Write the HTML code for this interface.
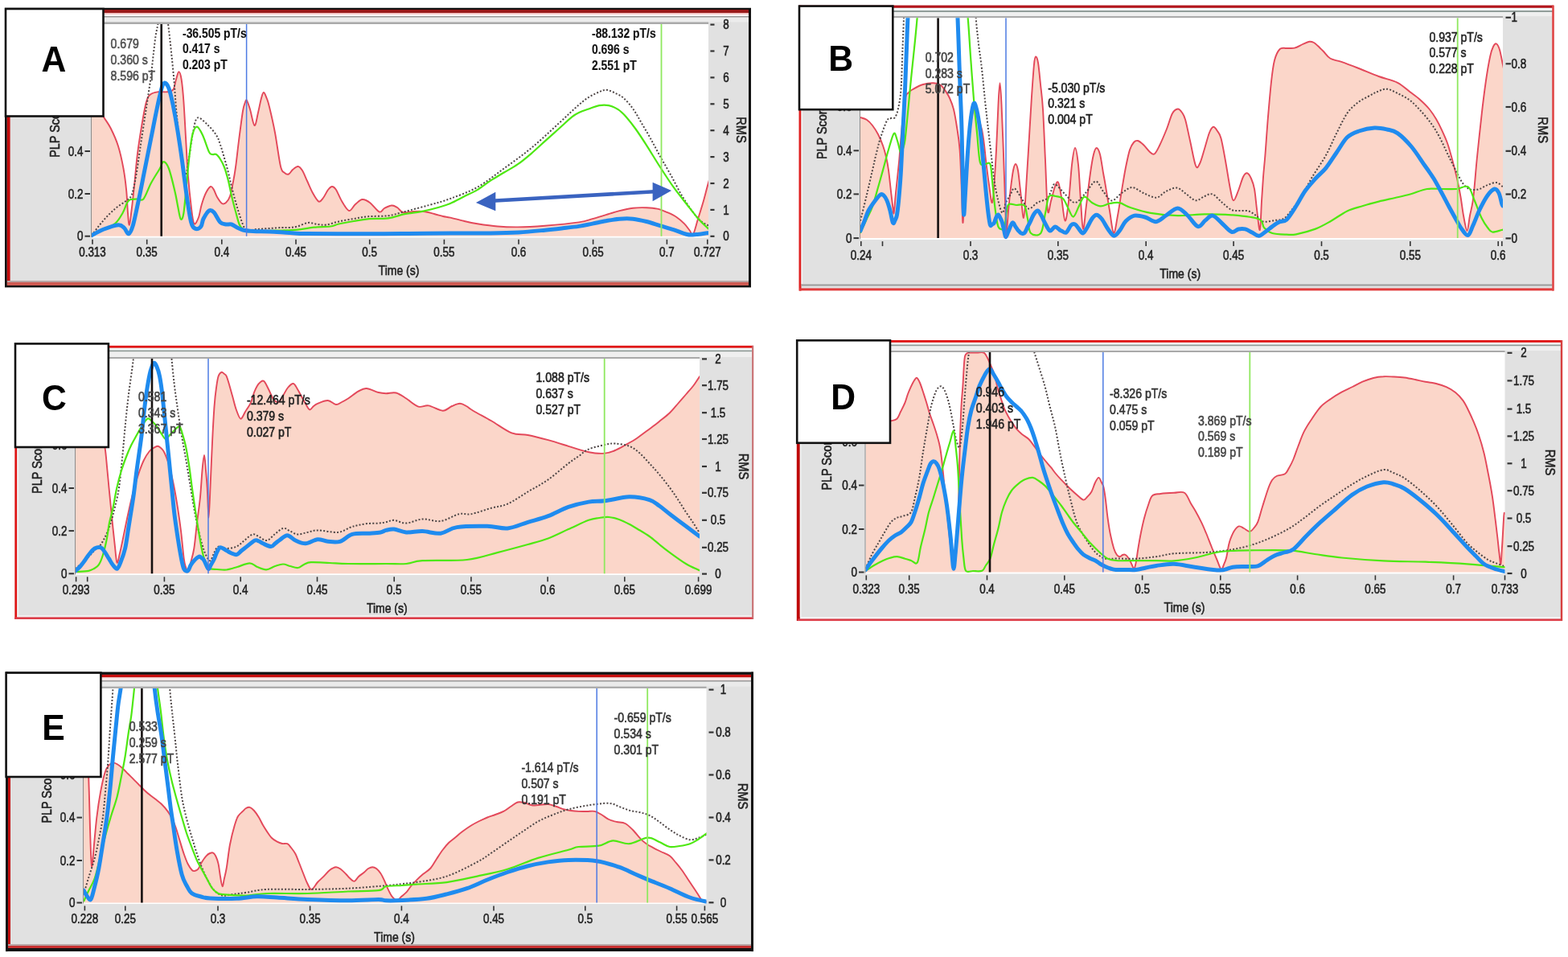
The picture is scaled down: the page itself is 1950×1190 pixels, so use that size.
<!DOCTYPE html>
<html><head><meta charset="utf-8"><title>PLP figure</title>
<style>
html,body{margin:0;padding:0;background:#fff;}
body{width:1950px;height:1190px;overflow:hidden;}
svg{display:block;}
.tk{font-family:"Liberation Sans", Arial, sans-serif;font-size:16px;fill:#222;stroke:#222;stroke-width:0.55px;}
.an{font-family:"Liberation Sans", Arial, sans-serif;font-size:16px;stroke-width:0.6px;}
.anb{font-family:"Liberation Sans", Arial, sans-serif;font-size:16px;font-weight:bold;stroke-width:0.1px;}
.lt{font-family:"Liberation Sans", Arial, sans-serif;font-size:44px;font-weight:bold;fill:#000;}
</style></head><body>
<svg width="1950" height="1190" viewBox="0 0 1950 1190">
<rect width="1950" height="1190" fill="#fff"/>
<clipPath id="clipA"><rect x="114.0" y="30.0" width="767.0" height="265.5"/></clipPath>
<rect x="6.0" y="10.0" width="928.0" height="347.0" fill="#e1e1e1"/>
<rect x="129.0" y="16.0" width="802.0" height="2.0" fill="#f3c4c4"/>
<rect x="129.0" y="18.0" width="802.0" height="2.0" fill="#ffffff"/>
<rect x="129.0" y="20.0" width="802.0" height="1.7" fill="#9a9a9a"/>
<rect x="129.0" y="21.7" width="802.0" height="5.8" fill="#ececec"/>
<rect x="129.0" y="27.5" width="752.0" height="2.5" fill="#aaaaaa"/>
<rect x="114.0" y="30.0" width="767.0" height="265.5" fill="#ffffff"/>
<g clip-path="url(#clipA)">
<path d="M114.0,118.0 C115.2,120.0 118.6,125.5 121.0,130.0 C123.4,134.4 125.7,139.8 128.5,144.7 C131.3,149.6 134.6,153.3 137.7,159.5 C140.8,165.7 144.4,173.4 147.0,181.7 C149.6,190.0 151.8,200.2 153.5,209.5 C155.2,218.8 156.3,227.9 157.2,237.2 C158.1,246.4 158.4,257.9 159.0,265.0 C159.6,272.1 160.1,280.3 160.9,279.7 C161.7,279.1 162.5,269.8 163.6,261.2 C164.7,252.6 166.1,239.7 167.3,228.0 C168.5,216.3 169.4,203.3 171.0,191.0 C172.6,178.7 174.8,164.8 176.6,154.0 C178.4,143.2 180.2,132.4 182.1,126.2 C183.9,120.0 185.2,119.0 187.7,117.0 C190.2,115.0 193.5,114.7 196.9,114.2 C200.3,113.7 204.9,114.7 208.0,114.2 C211.1,113.7 213.6,114.0 215.4,111.4 C217.2,108.8 217.9,102.2 219.1,98.5 C220.3,94.8 221.3,89.2 222.4,89.2 C223.5,89.2 224.6,92.3 225.6,98.5 C226.6,104.7 227.5,113.9 228.4,126.2 C229.3,138.5 230.2,157.1 231.1,172.5 C232.0,187.9 232.8,204.8 233.9,218.7 C235.0,232.6 236.4,245.8 237.6,255.7 C238.8,265.6 239.8,275.4 241.3,277.9 C242.9,280.4 245.4,274.3 246.9,270.5 C248.4,266.7 249.1,260.1 250.6,255.0 C252.1,249.9 254.1,243.8 256.0,240.0 C257.9,236.2 260.3,232.7 262.0,232.0 C263.7,231.3 264.7,233.8 266.0,236.0 C267.3,238.2 268.3,242.2 270.0,245.0 C271.7,247.8 274.2,251.8 276.0,253.0 C277.8,254.2 279.3,253.5 281.0,252.0 C282.7,250.5 284.5,248.3 286.0,244.0 C287.5,239.7 288.8,232.0 290.0,226.0 C291.2,220.0 291.8,216.5 293.0,208.0 C294.2,199.5 295.5,186.7 297.0,175.0 C298.5,163.3 300.7,146.0 302.0,138.0 C303.3,130.0 304.2,129.2 305.0,127.0 C305.8,124.8 306.0,123.5 307.0,125.0 C308.0,126.5 309.4,130.8 311.0,136.0 C312.6,141.2 314.8,155.3 316.5,156.0 C318.2,156.7 319.6,145.7 321.0,140.0 C322.4,134.3 323.8,126.2 325.0,122.0 C326.2,117.8 326.8,114.8 328.0,115.0 C329.2,115.2 330.8,120.0 332.0,123.0 C333.2,126.0 333.3,126.0 335.0,133.0 C336.7,140.0 339.7,152.7 342.0,165.0 C344.3,177.3 347.0,198.7 349.0,207.0 C351.0,215.3 352.3,213.4 354.0,215.0 C355.7,216.6 357.3,217.2 359.0,216.5 C360.7,215.8 362.1,212.6 364.0,211.0 C365.9,209.4 368.6,206.8 370.6,207.0 C372.6,207.2 374.1,209.0 376.0,212.0 C377.9,215.0 379.8,220.3 382.0,225.0 C384.2,229.7 386.6,235.7 389.0,240.0 C391.4,244.3 394.3,249.6 396.5,250.6 C398.7,251.6 400.1,248.4 402.0,246.0 C403.9,243.6 406.2,238.3 408.0,236.0 C409.8,233.7 411.3,232.0 413.0,232.0 C414.7,232.0 416.0,233.0 418.0,236.0 C420.0,239.0 422.3,245.7 425.0,250.0 C427.7,254.3 431.2,261.3 434.0,262.0 C436.8,262.7 439.2,256.3 442.0,254.0 C444.8,251.7 447.6,248.3 450.6,248.0 C453.6,247.7 456.5,249.4 460.0,252.0 C463.5,254.6 468.8,262.3 471.8,263.5 C474.8,264.7 475.5,260.3 478.0,259.0 C480.5,257.7 484.3,255.7 487.0,255.5 C489.7,255.3 491.7,256.6 494.0,258.0 C496.3,259.4 497.7,263.2 501.0,264.0 C504.3,264.8 509.7,263.2 514.0,263.0 C518.3,262.8 522.7,262.5 527.0,263.0 C531.3,263.5 536.0,265.0 540.0,266.0 C544.0,267.0 547.7,268.2 551.0,269.0 C554.3,269.8 555.7,269.6 560.0,270.6 C564.3,271.6 571.2,273.5 576.8,274.8 C582.4,276.1 586.6,277.1 593.6,278.2 C600.6,279.3 610.4,280.8 618.8,281.5 C627.2,282.2 634.2,282.5 644.0,282.4 C653.8,282.3 664.9,281.7 677.6,280.7 C690.3,279.7 710.1,277.8 720.0,276.4 C729.9,275.0 731.2,273.8 736.8,272.2 C742.4,270.6 748.0,268.8 753.6,267.1 C759.2,265.4 764.8,263.5 770.4,262.1 C776.0,260.7 781.6,259.4 787.2,258.7 C792.8,258.0 799.0,258.0 804.0,258.2 C809.0,258.4 813.2,258.7 817.4,259.6 C821.6,260.5 825.3,262.1 829.2,263.8 C833.1,265.5 837.4,267.3 841.0,269.7 C844.6,272.1 848.2,275.3 851.0,278.1 C853.8,280.9 855.9,284.3 857.7,286.5 C859.5,288.7 860.2,293.8 861.9,291.5 C863.6,289.2 865.7,279.7 867.8,273.0 C869.9,266.3 872.4,258.5 874.5,251.2 C876.6,243.9 878.6,235.5 880.4,229.3 C882.1,223.1 884.2,216.6 885.0,214.0 L885.0,293.8 L114.0,293.8 Z" fill="#fbd6c9" stroke="none"/>
<path d="M114.0,118.0 C115.2,120.0 118.6,125.5 121.0,130.0 C123.4,134.4 125.7,139.8 128.5,144.7 C131.3,149.6 134.6,153.3 137.7,159.5 C140.8,165.7 144.4,173.4 147.0,181.7 C149.6,190.0 151.8,200.2 153.5,209.5 C155.2,218.8 156.3,227.9 157.2,237.2 C158.1,246.4 158.4,257.9 159.0,265.0 C159.6,272.1 160.1,280.3 160.9,279.7 C161.7,279.1 162.5,269.8 163.6,261.2 C164.7,252.6 166.1,239.7 167.3,228.0 C168.5,216.3 169.4,203.3 171.0,191.0 C172.6,178.7 174.8,164.8 176.6,154.0 C178.4,143.2 180.2,132.4 182.1,126.2 C183.9,120.0 185.2,119.0 187.7,117.0 C190.2,115.0 193.5,114.7 196.9,114.2 C200.3,113.7 204.9,114.7 208.0,114.2 C211.1,113.7 213.6,114.0 215.4,111.4 C217.2,108.8 217.9,102.2 219.1,98.5 C220.3,94.8 221.3,89.2 222.4,89.2 C223.5,89.2 224.6,92.3 225.6,98.5 C226.6,104.7 227.5,113.9 228.4,126.2 C229.3,138.5 230.2,157.1 231.1,172.5 C232.0,187.9 232.8,204.8 233.9,218.7 C235.0,232.6 236.4,245.8 237.6,255.7 C238.8,265.6 239.8,275.4 241.3,277.9 C242.9,280.4 245.4,274.3 246.9,270.5 C248.4,266.7 249.1,260.1 250.6,255.0 C252.1,249.9 254.1,243.8 256.0,240.0 C257.9,236.2 260.3,232.7 262.0,232.0 C263.7,231.3 264.7,233.8 266.0,236.0 C267.3,238.2 268.3,242.2 270.0,245.0 C271.7,247.8 274.2,251.8 276.0,253.0 C277.8,254.2 279.3,253.5 281.0,252.0 C282.7,250.5 284.5,248.3 286.0,244.0 C287.5,239.7 288.8,232.0 290.0,226.0 C291.2,220.0 291.8,216.5 293.0,208.0 C294.2,199.5 295.5,186.7 297.0,175.0 C298.5,163.3 300.7,146.0 302.0,138.0 C303.3,130.0 304.2,129.2 305.0,127.0 C305.8,124.8 306.0,123.5 307.0,125.0 C308.0,126.5 309.4,130.8 311.0,136.0 C312.6,141.2 314.8,155.3 316.5,156.0 C318.2,156.7 319.6,145.7 321.0,140.0 C322.4,134.3 323.8,126.2 325.0,122.0 C326.2,117.8 326.8,114.8 328.0,115.0 C329.2,115.2 330.8,120.0 332.0,123.0 C333.2,126.0 333.3,126.0 335.0,133.0 C336.7,140.0 339.7,152.7 342.0,165.0 C344.3,177.3 347.0,198.7 349.0,207.0 C351.0,215.3 352.3,213.4 354.0,215.0 C355.7,216.6 357.3,217.2 359.0,216.5 C360.7,215.8 362.1,212.6 364.0,211.0 C365.9,209.4 368.6,206.8 370.6,207.0 C372.6,207.2 374.1,209.0 376.0,212.0 C377.9,215.0 379.8,220.3 382.0,225.0 C384.2,229.7 386.6,235.7 389.0,240.0 C391.4,244.3 394.3,249.6 396.5,250.6 C398.7,251.6 400.1,248.4 402.0,246.0 C403.9,243.6 406.2,238.3 408.0,236.0 C409.8,233.7 411.3,232.0 413.0,232.0 C414.7,232.0 416.0,233.0 418.0,236.0 C420.0,239.0 422.3,245.7 425.0,250.0 C427.7,254.3 431.2,261.3 434.0,262.0 C436.8,262.7 439.2,256.3 442.0,254.0 C444.8,251.7 447.6,248.3 450.6,248.0 C453.6,247.7 456.5,249.4 460.0,252.0 C463.5,254.6 468.8,262.3 471.8,263.5 C474.8,264.7 475.5,260.3 478.0,259.0 C480.5,257.7 484.3,255.7 487.0,255.5 C489.7,255.3 491.7,256.6 494.0,258.0 C496.3,259.4 497.7,263.2 501.0,264.0 C504.3,264.8 509.7,263.2 514.0,263.0 C518.3,262.8 522.7,262.5 527.0,263.0 C531.3,263.5 536.0,265.0 540.0,266.0 C544.0,267.0 547.7,268.2 551.0,269.0 C554.3,269.8 555.7,269.6 560.0,270.6 C564.3,271.6 571.2,273.5 576.8,274.8 C582.4,276.1 586.6,277.1 593.6,278.2 C600.6,279.3 610.4,280.8 618.8,281.5 C627.2,282.2 634.2,282.5 644.0,282.4 C653.8,282.3 664.9,281.7 677.6,280.7 C690.3,279.7 710.1,277.8 720.0,276.4 C729.9,275.0 731.2,273.8 736.8,272.2 C742.4,270.6 748.0,268.8 753.6,267.1 C759.2,265.4 764.8,263.5 770.4,262.1 C776.0,260.7 781.6,259.4 787.2,258.7 C792.8,258.0 799.0,258.0 804.0,258.2 C809.0,258.4 813.2,258.7 817.4,259.6 C821.6,260.5 825.3,262.1 829.2,263.8 C833.1,265.5 837.4,267.3 841.0,269.7 C844.6,272.1 848.2,275.3 851.0,278.1 C853.8,280.9 855.9,284.3 857.7,286.5 C859.5,288.7 860.2,293.8 861.9,291.5 C863.6,289.2 865.7,279.7 867.8,273.0 C869.9,266.3 872.4,258.5 874.5,251.2 C876.6,243.9 878.6,235.5 880.4,229.3 C882.1,223.1 884.2,216.6 885.0,214.0" fill="none" stroke="#e3485a" stroke-width="1.9"/>
<path d="M114.0,292.7 C116.4,289.6 123.6,279.8 128.5,274.2 C133.4,268.6 138.7,263.4 143.3,259.4 C147.9,255.4 152.8,253.0 156.2,250.2 C159.6,247.4 161.4,247.9 163.6,242.7 C165.8,237.4 167.3,228.9 169.2,218.7 C171.0,208.5 172.8,194.0 174.7,181.7 C176.5,169.4 178.8,154.9 180.3,144.7 C181.9,134.5 182.8,129.0 184.0,120.7 C185.2,112.4 186.6,103.5 187.7,95.0 C188.8,86.5 189.5,78.3 190.5,70.0 C191.5,61.7 192.5,51.8 193.5,45.0 C194.5,38.2 195.6,35.2 196.5,29.4 C197.4,23.6 197.4,13.2 199.0,10.0 C200.6,6.8 204.3,6.8 206.0,10.0 C207.7,13.2 207.9,21.1 209.0,29.4 C210.1,37.7 211.3,48.5 212.5,60.0 C213.7,71.5 215.2,85.9 216.3,98.5 C217.4,111.1 218.0,123.2 219.1,135.5 C220.2,147.8 221.6,161.7 222.8,172.5 C224.0,183.3 225.1,192.8 226.5,200.2 C227.9,207.6 229.5,218.4 231.1,216.9 C232.7,215.4 234.3,199.7 235.8,191.0 C237.3,182.3 238.4,172.4 240.0,165.0 C241.6,157.6 242.5,148.3 245.5,146.6 C248.5,144.9 254.1,151.4 258.0,155.0 C261.9,158.6 266.3,163.8 269.0,168.0 C271.7,172.2 272.3,175.2 274.0,180.0 C275.7,184.8 277.3,190.7 279.0,196.5 C280.7,202.3 282.5,209.1 284.0,215.0 C285.5,220.9 286.2,224.8 288.0,232.0 C289.8,239.2 292.7,250.2 295.0,258.0 C297.3,265.8 300.0,274.3 302.0,279.0 C304.0,283.7 304.0,285.0 307.0,286.0 C310.0,287.0 315.3,285.3 320.0,285.0 C324.7,284.7 330.0,284.3 335.0,284.0 C340.0,283.7 345.8,283.2 350.0,283.0 C354.2,282.8 356.7,283.2 360.0,283.0 C363.3,282.8 366.1,282.5 370.0,281.5 C373.9,280.5 379.1,277.3 383.3,276.9 C387.5,276.5 391.2,278.6 395.0,279.0 C398.8,279.4 401.5,280.1 405.9,279.5 C410.3,278.9 415.6,276.6 421.3,275.4 C427.0,274.1 434.0,273.0 440.0,272.0 C446.0,271.0 450.1,269.8 457.2,269.2 C464.3,268.6 475.1,269.2 482.8,268.2 C490.5,267.2 494.8,265.3 503.3,263.1 C511.9,260.9 524.6,257.6 534.1,254.9 C543.6,252.2 550.1,250.7 560.0,247.0 C569.9,243.3 582.4,239.1 593.6,232.8 C604.8,226.5 616.0,217.3 627.2,209.2 C638.4,201.1 649.6,193.2 660.8,184.0 C672.0,174.8 684.6,162.8 694.5,153.8 C704.4,144.8 713.5,135.8 720.0,130.2 C726.5,124.6 729.2,122.8 733.4,120.2 C737.6,117.6 741.8,115.7 745.2,114.3 C748.6,112.9 750.5,111.7 753.6,111.8 C756.7,111.9 760.1,113.4 763.7,115.1 C767.3,116.8 771.5,118.4 775.4,121.8 C779.3,125.2 783.6,130.2 787.2,135.3 C790.9,140.4 793.7,145.9 797.3,152.1 C800.9,158.2 805.1,165.2 809.0,172.2 C812.9,179.2 816.6,186.5 820.8,194.1 C825.0,201.7 829.7,209.5 834.2,217.6 C838.7,225.7 843.2,235.2 847.7,242.8 C852.2,250.4 857.2,257.6 861.1,262.9 C865.0,268.2 868.1,271.9 871.2,274.7 C874.3,277.5 877.3,278.5 879.6,279.7 C881.9,280.9 884.1,281.6 885.0,282.0" fill="none" stroke="#4e4646" stroke-width="2" stroke-dasharray="2 2.2"/>
<path d="M114.0,292.7 C116.4,291.5 123.6,287.8 128.5,285.3 C133.4,282.8 139.3,281.3 143.3,277.9 C147.3,274.5 150.0,269.3 152.5,265.0 C155.0,260.7 156.5,254.8 158.1,252.0 C159.7,249.2 159.8,249.1 161.8,248.3 C163.8,247.6 167.2,247.7 170.0,247.5 C172.8,247.3 175.5,250.7 178.4,247.4 C181.3,244.2 184.3,234.3 187.7,228.0 C191.1,221.7 196.2,214.0 198.8,209.5 C201.4,205.0 201.6,201.1 203.4,201.1 C205.2,201.1 207.6,203.5 209.9,209.5 C212.2,215.5 215.5,229.5 217.3,237.2 C219.2,244.9 219.8,249.8 221.0,255.7 C222.2,261.6 223.5,270.8 224.7,272.3 C225.9,273.9 227.2,272.4 228.4,265.0 C229.6,257.6 230.9,240.3 232.1,228.0 C233.3,215.7 234.6,201.2 235.8,191.0 C237.0,180.8 238.0,172.5 239.5,166.9 C241.0,161.3 242.9,157.5 245.0,157.7 C247.1,157.9 249.5,162.8 252.0,168.0 C254.5,173.2 258.0,185.0 260.0,189.0 C262.0,193.0 262.5,191.5 264.0,192.0 C265.5,192.5 267.3,191.0 269.0,192.0 C270.7,193.0 272.3,195.3 274.0,198.0 C275.7,200.7 277.3,203.5 279.0,208.0 C280.7,212.5 282.5,219.1 284.0,225.0 C285.5,230.9 286.5,237.2 288.0,243.5 C289.5,249.8 291.4,257.1 293.0,263.0 C294.6,268.9 296.1,275.3 297.6,279.0 C299.1,282.7 300.4,283.5 302.0,285.0 C303.6,286.5 302.3,287.7 307.0,288.0 C311.7,288.3 322.8,287.2 330.0,287.0 C337.2,286.8 343.3,286.7 350.0,286.5 C356.7,286.3 363.2,286.2 370.0,285.6 C376.8,285.0 383.7,283.3 390.5,282.6 C397.3,281.9 405.9,282.2 411.0,281.5 C416.1,280.8 416.5,279.6 421.3,278.5 C426.1,277.4 434.0,276.0 440.0,275.0 C446.0,274.0 450.1,272.9 457.2,272.3 C464.3,271.7 475.1,272.3 482.8,271.3 C490.5,270.3 496.5,267.6 503.3,266.2 C510.1,264.8 516.8,264.5 523.8,263.1 C530.8,261.7 539.0,259.7 545.0,258.0 C551.0,256.3 554.7,255.2 560.0,252.9 C565.3,250.7 571.2,247.3 576.8,244.5 C582.4,241.7 588.0,239.4 593.6,236.1 C599.2,232.8 604.8,228.0 610.4,224.4 C616.0,220.8 621.6,217.7 627.2,214.3 C632.8,210.9 638.4,208.1 644.0,204.2 C649.6,200.3 655.2,195.6 660.8,190.8 C666.4,186.0 672.0,180.7 677.6,175.6 C683.2,170.5 688.9,165.5 694.5,160.5 C700.1,155.5 707.0,148.8 711.3,145.4 C715.5,142.0 716.3,141.7 720.0,140.0 C723.7,138.3 729.2,136.5 733.4,135.0 C737.6,133.5 741.3,131.8 745.2,131.1 C749.1,130.4 753.1,130.3 757.0,131.1 C760.9,131.9 765.1,133.7 768.7,136.1 C772.3,138.5 775.1,141.3 778.8,145.4 C782.4,149.5 786.4,154.6 790.6,160.5 C794.8,166.4 799.0,172.8 804.0,180.6 C809.0,188.4 815.2,198.8 820.8,207.5 C826.4,216.2 832.0,224.9 837.6,232.7 C843.2,240.5 849.4,248.1 854.4,254.5 C859.4,260.9 863.6,266.5 867.8,271.3 C872.0,276.1 876.7,280.5 879.6,283.1 C882.5,285.7 884.1,286.4 885.0,287.0" fill="none" stroke="#4ee812" stroke-width="2.2"/>
<path d="M114.0,292.7 C116.4,291.5 123.0,287.5 128.5,285.3 C134.0,283.1 142.7,280.0 147.0,279.7 C151.3,279.4 152.2,281.5 154.4,283.4 C156.6,285.2 158.2,291.4 160.0,290.8 C161.8,290.2 163.3,287.1 165.5,279.7 C167.7,272.3 170.4,258.1 172.9,246.4 C175.4,234.7 177.8,221.8 180.3,209.5 C182.8,197.2 185.2,184.8 187.7,172.5 C190.2,160.2 192.9,145.7 195.1,135.5 C197.2,125.3 199.1,116.8 200.6,111.4 C202.1,106.0 202.8,103.4 204.3,103.1 C205.9,102.8 208.1,104.8 209.9,109.6 C211.8,114.4 213.6,122.9 215.4,131.8 C217.2,140.7 219.2,151.8 221.0,163.2 C222.8,174.6 224.7,186.9 226.5,200.2 C228.3,213.4 230.2,230.1 232.1,242.7 C233.9,255.3 235.8,269.1 237.6,276.0 C239.4,282.9 241.1,283.5 243.2,284.4 C245.3,285.3 248.4,283.7 250.0,281.6 C251.6,279.5 251.3,275.3 253.0,272.0 C254.7,268.7 257.8,263.3 260.0,262.0 C262.2,260.7 263.7,261.6 266.0,264.0 C268.3,266.4 271.5,274.0 274.0,276.5 C276.5,279.0 278.7,278.6 281.0,279.0 C283.3,279.4 285.7,278.3 288.0,279.0 C290.3,279.7 292.7,281.8 295.0,283.0 C297.3,284.2 298.7,285.2 302.0,286.0 C305.3,286.8 309.5,287.2 315.0,287.5 C320.5,287.8 327.5,287.7 335.0,288.0 C342.5,288.3 352.2,289.1 360.0,289.5 C367.8,289.9 367.0,290.4 382.0,290.6 C397.0,290.8 430.3,290.8 450.0,290.8 C469.7,290.8 481.7,290.7 500.0,290.6 C518.3,290.5 541.7,290.1 560.0,290.0 C578.3,289.9 595.8,290.2 610.0,290.0 C624.2,289.8 633.7,289.6 645.0,289.0 C656.3,288.4 668.4,287.1 677.6,286.2 C686.8,285.3 692.9,284.6 700.0,283.8 C707.1,283.0 713.9,282.3 720.0,281.4 C726.1,280.4 731.2,279.2 736.8,278.1 C742.4,277.0 748.0,275.7 753.6,274.7 C759.2,273.7 764.8,272.6 770.4,272.2 C776.0,271.8 781.6,271.6 787.2,272.2 C792.8,272.8 798.4,274.1 804.0,275.5 C809.6,276.9 815.2,278.9 820.8,280.6 C826.4,282.3 832.0,283.8 837.6,285.6 C843.2,287.4 849.6,290.5 854.4,291.5 C859.1,292.5 861.9,291.8 866.1,291.5 C870.3,291.2 876.5,290.1 879.6,289.8 C882.8,289.5 884.1,289.6 885.0,289.5" fill="none" stroke="#1f8bef" stroke-width="5" stroke-linejoin="round" stroke-linecap="round"/>
<line x1="200.7" y1="30.0" x2="200.7" y2="293.8" stroke="#151010" stroke-width="2.6"/>
<line x1="306.6" y1="30.0" x2="306.6" y2="293.8" stroke="#4d7be3" stroke-width="1.5"/>
<line x1="822.5" y1="30.0" x2="822.5" y2="293.8" stroke="#8fe85f" stroke-width="1.8"/>
</g>
<line x1="113.5" y1="30.0" x2="113.5" y2="294.8" stroke="#8c8c8c" stroke-width="1"/>
<line x1="105.5" y1="293.7" x2="112.0" y2="293.7" stroke="#333" stroke-width="2"/>
<text transform="translate(103.5,299.3) scale(0.840,1)" text-anchor="end" class="tk">0</text>
<line x1="105.5" y1="241.0" x2="112.0" y2="241.0" stroke="#333" stroke-width="2"/>
<text transform="translate(103.5,246.6) scale(0.840,1)" text-anchor="end" class="tk">0.2</text>
<line x1="105.5" y1="188.0" x2="112.0" y2="188.0" stroke="#333" stroke-width="2"/>
<text transform="translate(103.5,193.6) scale(0.840,1)" text-anchor="end" class="tk">0.4</text>
<line x1="105.5" y1="135.0" x2="112.0" y2="135.0" stroke="#333" stroke-width="2"/>
<text transform="translate(103.5,140.6) scale(0.840,1)" text-anchor="end" class="tk">0.6</text>
<line x1="883.4" y1="30.6" x2="888.5" y2="30.6" stroke="#333" stroke-width="2.2"/>
<text transform="translate(903.0,36.2) scale(0.840,1)" text-anchor="middle" class="tk">8</text>
<line x1="883.4" y1="63.5" x2="888.5" y2="63.5" stroke="#333" stroke-width="2.2"/>
<text transform="translate(903.0,69.1) scale(0.840,1)" text-anchor="middle" class="tk">7</text>
<line x1="883.4" y1="96.4" x2="888.5" y2="96.4" stroke="#333" stroke-width="2.2"/>
<text transform="translate(903.0,102.0) scale(0.840,1)" text-anchor="middle" class="tk">6</text>
<line x1="883.4" y1="129.3" x2="888.5" y2="129.3" stroke="#333" stroke-width="2.2"/>
<text transform="translate(903.0,134.9) scale(0.840,1)" text-anchor="middle" class="tk">5</text>
<line x1="883.4" y1="162.2" x2="888.5" y2="162.2" stroke="#333" stroke-width="2.2"/>
<text transform="translate(903.0,167.8) scale(0.840,1)" text-anchor="middle" class="tk">4</text>
<line x1="883.4" y1="195.1" x2="888.5" y2="195.1" stroke="#333" stroke-width="2.2"/>
<text transform="translate(903.0,200.7) scale(0.840,1)" text-anchor="middle" class="tk">3</text>
<line x1="883.4" y1="228.0" x2="888.5" y2="228.0" stroke="#333" stroke-width="2.2"/>
<text transform="translate(903.0,233.6) scale(0.840,1)" text-anchor="middle" class="tk">2</text>
<line x1="883.4" y1="260.9" x2="888.5" y2="260.9" stroke="#333" stroke-width="2.2"/>
<text transform="translate(903.0,266.5) scale(0.840,1)" text-anchor="middle" class="tk">1</text>
<line x1="883.4" y1="293.8" x2="888.5" y2="293.8" stroke="#333" stroke-width="2.2"/>
<text transform="translate(903.0,299.4) scale(0.840,1)" text-anchor="middle" class="tk">0</text>
<line x1="115.0" y1="297.8" x2="115.0" y2="303.8" stroke="#333" stroke-width="1.6"/>
<text transform="translate(115.0,319.2) scale(0.840,1)" text-anchor="middle" class="tk">0.313</text>
<line x1="182.7" y1="297.8" x2="182.7" y2="303.8" stroke="#333" stroke-width="1.6"/>
<text transform="translate(182.7,319.2) scale(0.840,1)" text-anchor="middle" class="tk">0.35</text>
<line x1="275.8" y1="297.8" x2="275.8" y2="303.8" stroke="#333" stroke-width="1.6"/>
<text transform="translate(275.8,319.2) scale(0.840,1)" text-anchor="middle" class="tk">0.4</text>
<line x1="368.0" y1="297.8" x2="368.0" y2="303.8" stroke="#333" stroke-width="1.6"/>
<text transform="translate(368.0,319.2) scale(0.840,1)" text-anchor="middle" class="tk">0.45</text>
<line x1="459.7" y1="297.8" x2="459.7" y2="303.8" stroke="#333" stroke-width="1.6"/>
<text transform="translate(459.7,319.2) scale(0.840,1)" text-anchor="middle" class="tk">0.5</text>
<line x1="552.4" y1="297.8" x2="552.4" y2="303.8" stroke="#333" stroke-width="1.6"/>
<text transform="translate(552.4,319.2) scale(0.840,1)" text-anchor="middle" class="tk">0.55</text>
<line x1="645.0" y1="297.8" x2="645.0" y2="303.8" stroke="#333" stroke-width="1.6"/>
<text transform="translate(645.0,319.2) scale(0.840,1)" text-anchor="middle" class="tk">0.6</text>
<line x1="737.6" y1="297.8" x2="737.6" y2="303.8" stroke="#333" stroke-width="1.6"/>
<text transform="translate(737.6,319.2) scale(0.840,1)" text-anchor="middle" class="tk">0.65</text>
<line x1="829.4" y1="297.8" x2="829.4" y2="303.8" stroke="#333" stroke-width="1.6"/>
<text transform="translate(829.4,319.2) scale(0.840,1)" text-anchor="middle" class="tk">0.7</text>
<line x1="879.8" y1="297.8" x2="879.8" y2="303.8" stroke="#333" stroke-width="1.6"/>
<text transform="translate(879.8,319.2) scale(0.840,1)" text-anchor="middle" class="tk">0.727</text>
<text transform="translate(496.0,341.6) scale(0.875,1)" text-anchor="middle" class="tk">Time (s)</text>
<text transform="translate(922.0,161.5) rotate(90) scale(0.92,1)" text-anchor="middle" class="tk" y="5.6">RMS</text>
<text transform="translate(68.4,195.8) rotate(-90) scale(0.9,1)" class="tk" y="5.6">PLP Score</text>
<text transform="translate(137.6,60.2) scale(0.880,1)" text-anchor="start" class="an" fill="#505050" stroke="#505050">0.679</text>
<text transform="translate(137.6,80.0) scale(0.880,1)" text-anchor="start" class="an" fill="#505050" stroke="#505050">0.360 s</text>
<text transform="translate(137.6,99.8) scale(0.880,1)" text-anchor="start" class="an" fill="#505050" stroke="#505050">8.596 pT</text>
<text transform="translate(227.0,46.5) scale(0.870,1)" text-anchor="start" class="anb" fill="#111" stroke="#111">-36.505 pT/s</text>
<text transform="translate(227.0,66.3) scale(0.870,1)" text-anchor="start" class="anb" fill="#111" stroke="#111">0.417 s</text>
<text transform="translate(227.0,86.1) scale(0.870,1)" text-anchor="start" class="anb" fill="#111" stroke="#111">0.203 pT</text>
<text transform="translate(736.0,47.3) scale(0.870,1)" text-anchor="start" class="anb" fill="#111" stroke="#111">-88.132 pT/s</text>
<text transform="translate(736.0,67.1) scale(0.870,1)" text-anchor="start" class="anb" fill="#111" stroke="#111">0.696 s</text>
<text transform="translate(736.0,86.9) scale(0.870,1)" text-anchor="start" class="anb" fill="#111" stroke="#111">2.551 pT</text>
<line x1="612" y1="249.8" x2="814" y2="238.3" stroke="#3a63c0" stroke-width="4.6"/>
<polygon points="591.9,252.1 616.3,238.7 616.3,262.2" fill="#3a63c0"/>
<polygon points="835.1,236.9 811.6,226.8 811.6,250.3" fill="#3a63c0"/>
<rect x="6.0" y="9.8" width="928.0" height="2.2" fill="#111"/>
<rect x="8.5" y="12.0" width="923.0" height="4.0" fill="#9a1a1a"/>
<rect x="6.0" y="10.0" width="2.8" height="347.0" fill="#111"/>
<rect x="8.8" y="12.0" width="3.8" height="342.0" fill="#c40c0c"/>
<rect x="9.0" y="349.0" width="922.0" height="2.0" fill="#b8a4a4"/>
<rect x="9.0" y="351.0" width="922.0" height="4.0" fill="#cf5a52"/>
<rect x="6.0" y="355.0" width="928.0" height="2.4" fill="#111"/>
<rect x="931.0" y="10.0" width="3.0" height="347.0" fill="#111"/>
<rect x="7.0" y="11.0" width="121.5" height="133.5" fill="#fff" stroke="#111" stroke-width="2.6"/>
<text transform="translate(67.0,88.8) scale(0.97,1)" text-anchor="middle" class="lt">A</text>
<clipPath id="clipB"><rect x="1070.0" y="22.3" width="799.0" height="275.7"/></clipPath>
<rect x="994.0" y="7.0" width="938.0" height="354.0" fill="#e1e1e1"/>
<rect x="1111.0" y="10.0" width="820.0" height="3.0" fill="#f3f7f7"/>
<rect x="1111.0" y="13.1" width="820.0" height="2.0" fill="#8e9a96"/>
<rect x="1111.0" y="15.1" width="820.0" height="5.0" fill="#efefef"/>
<rect x="1111.0" y="20.1" width="758.0" height="2.2" fill="#a9a9a9"/>
<rect x="1070.0" y="22.3" width="799.0" height="275.7" fill="#ffffff"/>
<g clip-path="url(#clipB)">
<path d="M1070.0,146.0 C1071.3,146.5 1075.5,147.3 1078.0,149.0 C1080.5,150.7 1082.7,153.0 1085.0,156.0 C1087.3,159.0 1089.8,162.8 1092.0,167.0 C1094.2,171.2 1096.3,176.3 1098.0,181.0 C1099.7,185.7 1100.8,189.9 1102.0,195.0 C1103.2,200.1 1104.0,204.4 1105.0,211.6 C1106.0,218.8 1107.1,230.3 1108.0,238.0 C1108.9,245.7 1109.8,253.6 1110.4,258.0 C1111.0,262.4 1111.1,267.6 1111.7,264.6 C1112.3,261.6 1113.0,250.5 1114.0,240.0 C1115.0,229.5 1116.8,214.1 1118.0,201.6 C1119.2,189.1 1119.8,178.0 1121.0,165.0 C1122.2,152.0 1124.0,131.7 1125.5,123.4 C1127.0,115.1 1128.3,117.1 1130.0,115.0 C1131.7,112.9 1132.6,112.5 1135.6,110.8 C1138.6,109.1 1143.8,106.2 1148.0,105.0 C1152.2,103.8 1157.3,103.1 1161.0,103.3 C1164.7,103.5 1167.5,104.3 1170.0,106.0 C1172.5,107.7 1174.2,110.6 1176.0,113.3 C1177.8,116.0 1179.3,118.2 1181.0,122.0 C1182.7,125.8 1184.5,130.0 1186.0,136.0 C1187.5,142.0 1188.7,149.6 1190.0,158.0 C1191.3,166.4 1192.6,172.7 1193.6,186.4 C1194.6,200.1 1195.4,224.9 1196.0,240.0 C1196.6,255.1 1196.9,275.3 1197.4,277.0 C1197.9,278.7 1198.4,260.9 1199.0,250.0 C1199.6,239.1 1200.0,225.3 1201.0,211.6 C1202.0,197.9 1203.3,180.6 1205.0,168.0 C1206.7,155.4 1209.2,139.8 1211.0,136.0 C1212.8,132.2 1214.3,140.8 1216.0,145.0 C1217.7,149.2 1219.7,155.2 1221.0,161.0 C1222.3,166.8 1223.2,173.7 1224.0,180.0 C1224.8,186.3 1225.0,190.7 1226.0,199.0 C1227.0,207.3 1228.7,221.2 1230.0,230.0 C1231.3,238.8 1232.8,253.7 1234.0,252.0 C1235.2,250.3 1236.2,230.9 1237.0,220.0 C1237.8,209.1 1238.2,201.4 1239.0,186.4 C1239.8,171.4 1240.8,143.8 1241.5,130.0 C1242.2,116.2 1242.8,103.3 1243.5,103.3 C1244.2,103.3 1244.8,116.2 1245.5,130.0 C1246.2,143.8 1247.0,166.4 1247.8,186.4 C1248.5,206.4 1249.4,233.2 1250.0,250.0 C1250.6,266.8 1250.9,285.0 1251.6,287.0 C1252.3,289.0 1253.2,270.4 1254.0,262.0 C1254.8,253.6 1255.6,245.1 1256.6,236.8 C1257.6,228.5 1258.9,217.5 1260.0,212.0 C1261.1,206.5 1262.0,204.0 1263.0,204.0 C1264.0,204.0 1265.0,206.5 1266.0,212.0 C1267.0,217.5 1267.8,227.0 1269.0,236.8 C1270.2,246.6 1271.8,271.3 1273.0,271.0 C1274.2,270.7 1275.0,249.1 1276.0,235.0 C1277.0,220.9 1277.8,205.6 1279.0,186.4 C1280.2,167.2 1281.8,137.7 1283.0,120.0 C1284.2,102.3 1285.2,88.2 1286.0,80.0 C1286.8,71.8 1287.2,70.8 1288.0,70.5 C1288.8,70.2 1290.0,72.2 1291.0,78.0 C1292.0,83.8 1293.0,95.3 1294.0,105.0 C1295.0,114.7 1296.0,120.2 1297.0,136.0 C1298.0,151.8 1299.0,179.0 1300.0,200.0 C1301.0,221.0 1301.8,253.7 1303.0,262.0 C1304.2,270.3 1305.5,255.0 1307.0,250.0 C1308.5,245.0 1310.5,235.9 1312.0,232.0 C1313.5,228.1 1314.7,224.6 1316.0,226.8 C1317.3,229.0 1318.6,237.0 1320.0,245.0 C1321.4,253.0 1323.1,273.8 1324.6,274.6 C1326.1,275.4 1327.6,261.6 1329.0,250.0 C1330.4,238.4 1331.7,216.0 1333.0,205.0 C1334.3,194.0 1335.7,184.0 1337.0,184.0 C1338.3,184.0 1339.8,194.0 1341.0,205.0 C1342.2,216.0 1343.0,236.7 1344.0,250.0 C1345.0,263.3 1345.8,283.9 1347.0,284.7 C1348.2,285.5 1349.5,266.6 1351.0,255.0 C1352.5,243.4 1354.5,225.5 1356.0,215.0 C1357.5,204.5 1358.7,197.2 1360.0,192.0 C1361.3,186.8 1362.4,184.0 1363.7,184.0 C1365.0,184.0 1366.6,186.8 1368.0,192.0 C1369.4,197.2 1370.8,208.4 1372.0,215.0 C1373.2,221.6 1373.7,224.0 1375.0,231.8 C1376.3,239.6 1378.3,252.3 1380.0,262.0 C1381.7,271.7 1383.3,288.8 1385.0,289.8 C1386.7,290.8 1388.3,276.8 1390.0,268.0 C1391.7,259.2 1393.3,246.8 1395.0,236.8 C1396.7,226.8 1398.3,216.4 1400.0,208.0 C1401.7,199.6 1403.3,191.6 1405.0,186.4 C1406.7,181.2 1408.3,178.9 1410.0,177.0 C1411.7,175.1 1413.0,174.5 1415.0,175.0 C1417.0,175.5 1419.5,177.7 1422.0,180.0 C1424.5,182.3 1427.7,187.1 1430.0,189.0 C1432.3,190.9 1433.6,192.8 1435.6,191.5 C1437.6,190.2 1439.5,186.1 1442.0,181.0 C1444.5,175.9 1448.0,167.7 1450.7,161.0 C1453.4,154.3 1455.7,145.2 1458.0,141.0 C1460.3,136.8 1462.8,135.7 1464.8,135.5 C1466.8,135.3 1468.5,137.8 1470.0,140.0 C1471.5,142.2 1472.3,142.8 1474.0,148.6 C1475.7,154.4 1477.8,165.4 1480.0,175.0 C1482.2,184.6 1485.0,201.2 1487.0,206.0 C1489.0,210.8 1490.2,207.0 1492.0,203.5 C1493.8,200.0 1496.0,191.4 1498.0,185.0 C1500.0,178.6 1502.2,169.5 1504.0,165.0 C1505.8,160.5 1507.3,158.1 1509.0,157.8 C1510.7,157.5 1512.4,160.6 1514.0,163.0 C1515.6,165.4 1516.8,165.8 1518.5,172.0 C1520.2,178.2 1522.1,189.5 1524.0,200.0 C1525.9,210.5 1528.3,226.8 1530.0,235.0 C1531.7,243.2 1532.3,249.0 1534.0,249.3 C1535.7,249.6 1538.0,241.9 1540.0,237.0 C1542.0,232.1 1544.2,223.6 1546.0,220.0 C1547.8,216.4 1549.3,215.0 1551.0,215.3 C1552.7,215.6 1554.5,218.7 1556.0,222.0 C1557.5,225.3 1558.8,228.7 1560.0,235.0 C1561.2,241.3 1561.9,251.5 1563.0,260.0 C1564.1,268.5 1565.8,287.7 1566.8,286.0 C1567.8,284.3 1568.3,261.0 1569.0,250.0 C1569.7,239.0 1570.3,229.5 1571.0,220.0 C1571.7,210.5 1572.4,205.5 1573.4,193.0 C1574.4,180.5 1575.7,160.2 1577.0,145.0 C1578.3,129.8 1579.7,113.2 1581.0,101.5 C1582.3,89.8 1583.2,81.8 1585.0,75.0 C1586.8,68.2 1589.2,63.5 1591.7,61.0 C1594.2,58.5 1597.0,60.2 1600.0,60.0 C1603.0,59.8 1606.7,60.5 1610.0,59.7 C1613.3,58.9 1617.0,56.3 1620.0,55.0 C1623.0,53.7 1626.0,52.1 1628.3,51.8 C1630.6,51.5 1632.2,52.1 1634.0,53.0 C1635.8,53.9 1636.8,55.2 1638.8,57.0 C1640.8,58.8 1643.4,61.4 1646.0,64.0 C1648.6,66.6 1650.9,70.7 1654.5,72.8 C1658.1,74.9 1661.8,74.8 1667.5,76.7 C1673.2,78.7 1680.7,81.5 1688.5,84.5 C1696.3,87.5 1706.3,92.0 1714.6,95.0 C1722.8,98.0 1731.5,99.5 1738.0,102.8 C1744.5,106.1 1749.1,111.1 1753.8,114.6 C1758.5,118.1 1762.1,120.5 1766.0,124.0 C1769.9,127.5 1774.1,131.5 1777.4,135.5 C1780.7,139.5 1783.4,143.6 1786.0,148.0 C1788.6,152.4 1790.7,156.7 1793.0,161.7 C1795.3,166.7 1797.8,171.9 1800.0,178.0 C1802.2,184.1 1804.0,191.0 1806.0,198.3 C1808.0,205.6 1810.2,214.2 1812.0,222.0 C1813.8,229.8 1815.3,237.7 1816.6,245.4 C1817.9,253.1 1818.7,261.1 1820.0,268.0 C1821.3,274.9 1823.2,287.0 1824.5,287.0 C1825.8,287.0 1826.7,274.9 1828.0,268.0 C1829.3,261.1 1830.8,257.6 1832.3,245.4 C1833.8,233.2 1835.2,212.4 1837.0,195.0 C1838.8,177.6 1841.0,156.6 1842.8,140.8 C1844.6,125.0 1846.3,111.8 1848.0,100.0 C1849.7,88.2 1851.7,77.0 1853.2,70.0 C1854.7,63.0 1855.7,60.6 1857.0,58.0 C1858.3,55.4 1859.7,53.8 1861.0,54.5 C1862.3,55.2 1863.7,57.6 1865.0,62.0 C1866.3,66.3 1867.8,75.1 1869.0,80.6 C1870.2,86.1 1871.5,92.6 1872.0,95.0 L1872.0,296.1 L1070.0,296.1 Z" fill="#fbd6c9" stroke="none"/>
<path d="M1070.0,146.0 C1071.3,146.5 1075.5,147.3 1078.0,149.0 C1080.5,150.7 1082.7,153.0 1085.0,156.0 C1087.3,159.0 1089.8,162.8 1092.0,167.0 C1094.2,171.2 1096.3,176.3 1098.0,181.0 C1099.7,185.7 1100.8,189.9 1102.0,195.0 C1103.2,200.1 1104.0,204.4 1105.0,211.6 C1106.0,218.8 1107.1,230.3 1108.0,238.0 C1108.9,245.7 1109.8,253.6 1110.4,258.0 C1111.0,262.4 1111.1,267.6 1111.7,264.6 C1112.3,261.6 1113.0,250.5 1114.0,240.0 C1115.0,229.5 1116.8,214.1 1118.0,201.6 C1119.2,189.1 1119.8,178.0 1121.0,165.0 C1122.2,152.0 1124.0,131.7 1125.5,123.4 C1127.0,115.1 1128.3,117.1 1130.0,115.0 C1131.7,112.9 1132.6,112.5 1135.6,110.8 C1138.6,109.1 1143.8,106.2 1148.0,105.0 C1152.2,103.8 1157.3,103.1 1161.0,103.3 C1164.7,103.5 1167.5,104.3 1170.0,106.0 C1172.5,107.7 1174.2,110.6 1176.0,113.3 C1177.8,116.0 1179.3,118.2 1181.0,122.0 C1182.7,125.8 1184.5,130.0 1186.0,136.0 C1187.5,142.0 1188.7,149.6 1190.0,158.0 C1191.3,166.4 1192.6,172.7 1193.6,186.4 C1194.6,200.1 1195.4,224.9 1196.0,240.0 C1196.6,255.1 1196.9,275.3 1197.4,277.0 C1197.9,278.7 1198.4,260.9 1199.0,250.0 C1199.6,239.1 1200.0,225.3 1201.0,211.6 C1202.0,197.9 1203.3,180.6 1205.0,168.0 C1206.7,155.4 1209.2,139.8 1211.0,136.0 C1212.8,132.2 1214.3,140.8 1216.0,145.0 C1217.7,149.2 1219.7,155.2 1221.0,161.0 C1222.3,166.8 1223.2,173.7 1224.0,180.0 C1224.8,186.3 1225.0,190.7 1226.0,199.0 C1227.0,207.3 1228.7,221.2 1230.0,230.0 C1231.3,238.8 1232.8,253.7 1234.0,252.0 C1235.2,250.3 1236.2,230.9 1237.0,220.0 C1237.8,209.1 1238.2,201.4 1239.0,186.4 C1239.8,171.4 1240.8,143.8 1241.5,130.0 C1242.2,116.2 1242.8,103.3 1243.5,103.3 C1244.2,103.3 1244.8,116.2 1245.5,130.0 C1246.2,143.8 1247.0,166.4 1247.8,186.4 C1248.5,206.4 1249.4,233.2 1250.0,250.0 C1250.6,266.8 1250.9,285.0 1251.6,287.0 C1252.3,289.0 1253.2,270.4 1254.0,262.0 C1254.8,253.6 1255.6,245.1 1256.6,236.8 C1257.6,228.5 1258.9,217.5 1260.0,212.0 C1261.1,206.5 1262.0,204.0 1263.0,204.0 C1264.0,204.0 1265.0,206.5 1266.0,212.0 C1267.0,217.5 1267.8,227.0 1269.0,236.8 C1270.2,246.6 1271.8,271.3 1273.0,271.0 C1274.2,270.7 1275.0,249.1 1276.0,235.0 C1277.0,220.9 1277.8,205.6 1279.0,186.4 C1280.2,167.2 1281.8,137.7 1283.0,120.0 C1284.2,102.3 1285.2,88.2 1286.0,80.0 C1286.8,71.8 1287.2,70.8 1288.0,70.5 C1288.8,70.2 1290.0,72.2 1291.0,78.0 C1292.0,83.8 1293.0,95.3 1294.0,105.0 C1295.0,114.7 1296.0,120.2 1297.0,136.0 C1298.0,151.8 1299.0,179.0 1300.0,200.0 C1301.0,221.0 1301.8,253.7 1303.0,262.0 C1304.2,270.3 1305.5,255.0 1307.0,250.0 C1308.5,245.0 1310.5,235.9 1312.0,232.0 C1313.5,228.1 1314.7,224.6 1316.0,226.8 C1317.3,229.0 1318.6,237.0 1320.0,245.0 C1321.4,253.0 1323.1,273.8 1324.6,274.6 C1326.1,275.4 1327.6,261.6 1329.0,250.0 C1330.4,238.4 1331.7,216.0 1333.0,205.0 C1334.3,194.0 1335.7,184.0 1337.0,184.0 C1338.3,184.0 1339.8,194.0 1341.0,205.0 C1342.2,216.0 1343.0,236.7 1344.0,250.0 C1345.0,263.3 1345.8,283.9 1347.0,284.7 C1348.2,285.5 1349.5,266.6 1351.0,255.0 C1352.5,243.4 1354.5,225.5 1356.0,215.0 C1357.5,204.5 1358.7,197.2 1360.0,192.0 C1361.3,186.8 1362.4,184.0 1363.7,184.0 C1365.0,184.0 1366.6,186.8 1368.0,192.0 C1369.4,197.2 1370.8,208.4 1372.0,215.0 C1373.2,221.6 1373.7,224.0 1375.0,231.8 C1376.3,239.6 1378.3,252.3 1380.0,262.0 C1381.7,271.7 1383.3,288.8 1385.0,289.8 C1386.7,290.8 1388.3,276.8 1390.0,268.0 C1391.7,259.2 1393.3,246.8 1395.0,236.8 C1396.7,226.8 1398.3,216.4 1400.0,208.0 C1401.7,199.6 1403.3,191.6 1405.0,186.4 C1406.7,181.2 1408.3,178.9 1410.0,177.0 C1411.7,175.1 1413.0,174.5 1415.0,175.0 C1417.0,175.5 1419.5,177.7 1422.0,180.0 C1424.5,182.3 1427.7,187.1 1430.0,189.0 C1432.3,190.9 1433.6,192.8 1435.6,191.5 C1437.6,190.2 1439.5,186.1 1442.0,181.0 C1444.5,175.9 1448.0,167.7 1450.7,161.0 C1453.4,154.3 1455.7,145.2 1458.0,141.0 C1460.3,136.8 1462.8,135.7 1464.8,135.5 C1466.8,135.3 1468.5,137.8 1470.0,140.0 C1471.5,142.2 1472.3,142.8 1474.0,148.6 C1475.7,154.4 1477.8,165.4 1480.0,175.0 C1482.2,184.6 1485.0,201.2 1487.0,206.0 C1489.0,210.8 1490.2,207.0 1492.0,203.5 C1493.8,200.0 1496.0,191.4 1498.0,185.0 C1500.0,178.6 1502.2,169.5 1504.0,165.0 C1505.8,160.5 1507.3,158.1 1509.0,157.8 C1510.7,157.5 1512.4,160.6 1514.0,163.0 C1515.6,165.4 1516.8,165.8 1518.5,172.0 C1520.2,178.2 1522.1,189.5 1524.0,200.0 C1525.9,210.5 1528.3,226.8 1530.0,235.0 C1531.7,243.2 1532.3,249.0 1534.0,249.3 C1535.7,249.6 1538.0,241.9 1540.0,237.0 C1542.0,232.1 1544.2,223.6 1546.0,220.0 C1547.8,216.4 1549.3,215.0 1551.0,215.3 C1552.7,215.6 1554.5,218.7 1556.0,222.0 C1557.5,225.3 1558.8,228.7 1560.0,235.0 C1561.2,241.3 1561.9,251.5 1563.0,260.0 C1564.1,268.5 1565.8,287.7 1566.8,286.0 C1567.8,284.3 1568.3,261.0 1569.0,250.0 C1569.7,239.0 1570.3,229.5 1571.0,220.0 C1571.7,210.5 1572.4,205.5 1573.4,193.0 C1574.4,180.5 1575.7,160.2 1577.0,145.0 C1578.3,129.8 1579.7,113.2 1581.0,101.5 C1582.3,89.8 1583.2,81.8 1585.0,75.0 C1586.8,68.2 1589.2,63.5 1591.7,61.0 C1594.2,58.5 1597.0,60.2 1600.0,60.0 C1603.0,59.8 1606.7,60.5 1610.0,59.7 C1613.3,58.9 1617.0,56.3 1620.0,55.0 C1623.0,53.7 1626.0,52.1 1628.3,51.8 C1630.6,51.5 1632.2,52.1 1634.0,53.0 C1635.8,53.9 1636.8,55.2 1638.8,57.0 C1640.8,58.8 1643.4,61.4 1646.0,64.0 C1648.6,66.6 1650.9,70.7 1654.5,72.8 C1658.1,74.9 1661.8,74.8 1667.5,76.7 C1673.2,78.7 1680.7,81.5 1688.5,84.5 C1696.3,87.5 1706.3,92.0 1714.6,95.0 C1722.8,98.0 1731.5,99.5 1738.0,102.8 C1744.5,106.1 1749.1,111.1 1753.8,114.6 C1758.5,118.1 1762.1,120.5 1766.0,124.0 C1769.9,127.5 1774.1,131.5 1777.4,135.5 C1780.7,139.5 1783.4,143.6 1786.0,148.0 C1788.6,152.4 1790.7,156.7 1793.0,161.7 C1795.3,166.7 1797.8,171.9 1800.0,178.0 C1802.2,184.1 1804.0,191.0 1806.0,198.3 C1808.0,205.6 1810.2,214.2 1812.0,222.0 C1813.8,229.8 1815.3,237.7 1816.6,245.4 C1817.9,253.1 1818.7,261.1 1820.0,268.0 C1821.3,274.9 1823.2,287.0 1824.5,287.0 C1825.8,287.0 1826.7,274.9 1828.0,268.0 C1829.3,261.1 1830.8,257.6 1832.3,245.4 C1833.8,233.2 1835.2,212.4 1837.0,195.0 C1838.8,177.6 1841.0,156.6 1842.8,140.8 C1844.6,125.0 1846.3,111.8 1848.0,100.0 C1849.7,88.2 1851.7,77.0 1853.2,70.0 C1854.7,63.0 1855.7,60.6 1857.0,58.0 C1858.3,55.4 1859.7,53.8 1861.0,54.5 C1862.3,55.2 1863.7,57.6 1865.0,62.0 C1866.3,66.3 1867.8,75.1 1869.0,80.6 C1870.2,86.1 1871.5,92.6 1872.0,95.0" fill="none" stroke="#e3485a" stroke-width="1.9"/>
<path d="M1070.0,274.6 C1071.3,269.2 1075.5,252.5 1078.0,242.0 C1080.5,231.5 1083.0,220.3 1085.0,211.6 C1087.0,202.9 1088.3,196.7 1090.0,190.0 C1091.7,183.3 1092.8,178.0 1095.0,171.3 C1097.2,164.6 1100.8,154.1 1103.0,150.0 C1105.2,145.9 1106.3,147.7 1108.0,147.0 C1109.7,146.3 1111.5,148.0 1113.0,146.0 C1114.5,144.0 1115.8,140.8 1117.0,135.0 C1118.2,129.2 1119.6,123.5 1120.5,111.0 C1121.4,98.5 1121.9,74.7 1122.5,60.0 C1123.1,45.3 1123.6,34.3 1124.0,22.6 C1124.4,10.9 1110.3,-4.6 1125.0,-10.0 C1139.7,-15.4 1197.2,-15.4 1212.0,-10.0 C1226.8,-4.6 1212.9,11.8 1213.7,22.6 C1214.5,33.4 1215.8,44.5 1217.0,55.0 C1218.2,65.5 1219.7,73.9 1221.0,85.6 C1222.3,97.3 1223.7,112.4 1225.0,125.0 C1226.3,137.6 1227.7,149.3 1229.0,161.0 C1230.3,172.7 1231.8,184.5 1233.0,195.0 C1234.2,205.5 1235.1,215.2 1236.4,224.0 C1237.7,232.8 1239.3,241.2 1241.0,248.0 C1242.7,254.8 1244.8,263.9 1246.5,264.6 C1248.2,265.3 1249.3,255.8 1251.0,252.0 C1252.7,248.2 1254.8,244.8 1256.6,241.9 C1258.4,239.0 1259.4,233.6 1261.6,234.3 C1263.8,235.0 1267.1,241.8 1270.0,246.0 C1272.9,250.2 1275.7,258.5 1279.0,259.5 C1282.3,260.5 1286.2,254.1 1290.0,252.0 C1293.8,249.9 1299.2,249.3 1302.0,247.0 C1304.8,244.7 1305.3,241.0 1307.0,238.0 C1308.7,235.0 1309.0,228.3 1312.0,229.0 C1315.0,229.7 1320.8,238.2 1325.0,242.0 C1329.2,245.8 1332.8,252.3 1337.0,252.0 C1341.2,251.7 1345.8,244.4 1350.0,240.0 C1354.2,235.6 1358.8,225.8 1362.5,225.5 C1366.2,225.2 1368.7,234.0 1372.0,238.0 C1375.3,242.0 1378.8,249.1 1382.6,249.4 C1386.4,249.7 1390.8,242.7 1395.0,240.0 C1399.2,237.3 1403.5,233.0 1408.0,233.0 C1412.5,233.0 1417.0,237.9 1422.0,240.0 C1427.0,242.1 1433.3,246.0 1438.0,245.7 C1442.7,245.4 1445.8,240.0 1450.0,238.0 C1454.2,236.0 1459.3,233.1 1463.5,233.6 C1467.7,234.1 1471.1,238.4 1475.0,241.0 C1478.9,243.6 1483.2,248.8 1487.0,249.3 C1490.8,249.8 1494.5,245.3 1498.0,244.0 C1501.5,242.7 1504.3,240.2 1508.0,241.5 C1511.7,242.8 1516.1,248.8 1520.0,252.0 C1523.9,255.2 1527.8,259.3 1531.5,261.0 C1535.2,262.7 1538.5,261.8 1542.0,262.0 C1545.5,262.2 1549.2,261.4 1552.5,262.4 C1555.8,263.4 1559.0,265.8 1562.0,268.0 C1565.0,270.2 1567.0,274.5 1570.8,275.5 C1574.6,276.5 1580.6,274.7 1585.0,274.0 C1589.4,273.3 1593.2,274.0 1597.0,271.5 C1600.8,269.0 1604.5,263.4 1608.0,259.0 C1611.5,254.7 1613.8,251.9 1617.8,245.4 C1621.8,238.9 1626.8,228.7 1632.0,220.0 C1637.2,211.3 1644.0,202.0 1649.0,193.0 C1654.0,184.0 1657.6,174.7 1662.0,166.0 C1666.4,157.3 1671.1,147.1 1675.4,140.8 C1679.7,134.5 1683.7,131.5 1688.0,128.0 C1692.3,124.5 1697.3,122.3 1701.5,120.0 C1705.7,117.7 1709.1,115.5 1713.0,114.0 C1716.9,112.5 1720.5,110.2 1725.0,110.7 C1729.5,111.2 1735.2,114.6 1740.0,117.0 C1744.8,119.4 1749.3,121.5 1753.8,125.0 C1758.3,128.5 1762.6,133.2 1767.0,138.0 C1771.4,142.8 1776.2,148.5 1780.0,153.8 C1783.8,159.1 1786.5,163.5 1790.0,170.0 C1793.5,176.5 1798.0,186.8 1801.0,193.0 C1804.0,199.2 1805.8,202.7 1808.0,207.0 C1810.2,211.3 1812.0,215.3 1814.0,219.0 C1816.0,222.7 1817.8,226.3 1820.0,229.0 C1822.2,231.7 1824.8,233.8 1827.0,235.0 C1829.2,236.2 1830.8,236.0 1833.0,236.0 C1835.2,236.0 1837.2,236.0 1840.0,235.0 C1842.8,234.0 1846.5,231.3 1850.0,230.0 C1853.5,228.7 1857.8,226.6 1861.0,227.0 C1864.2,227.4 1867.2,231.1 1869.0,232.3 C1870.8,233.5 1871.5,233.7 1872.0,234.0" fill="none" stroke="#4e4646" stroke-width="2" stroke-dasharray="2 2.2"/>
<path d="M1070.0,289.8 C1071.3,286.8 1075.5,277.5 1078.0,272.0 C1080.5,266.5 1082.7,263.5 1085.0,257.0 C1087.3,250.5 1089.8,240.6 1092.0,233.0 C1094.2,225.4 1095.8,219.4 1098.0,211.6 C1100.2,203.8 1102.7,193.6 1105.0,186.0 C1107.3,178.4 1109.9,167.8 1111.7,166.0 C1113.5,164.2 1114.5,170.8 1116.0,175.0 C1117.5,179.2 1119.3,189.8 1120.5,191.5 C1121.7,193.2 1122.2,187.9 1123.0,185.0 C1123.8,182.1 1124.5,181.5 1125.5,174.0 C1126.5,166.5 1127.8,152.7 1129.0,140.0 C1130.2,127.3 1131.7,111.3 1133.0,98.0 C1134.3,84.7 1135.7,72.6 1137.0,60.0 C1138.3,47.4 1139.6,34.3 1140.6,22.6 C1141.6,10.9 1133.1,-4.6 1143.0,-10.0 C1152.9,-15.4 1189.9,-15.4 1200.0,-10.0 C1210.1,-4.6 1202.5,9.3 1203.7,22.6 C1204.9,35.9 1205.8,53.2 1207.0,70.0 C1208.2,86.8 1209.7,107.6 1211.0,123.4 C1212.3,139.2 1213.7,152.0 1215.0,165.0 C1216.3,178.0 1217.1,195.1 1218.8,201.6 C1220.5,208.1 1222.9,203.6 1225.0,204.0 C1227.1,204.4 1229.9,200.5 1231.4,204.0 C1232.9,207.5 1233.2,217.4 1234.0,225.0 C1234.8,232.6 1235.6,241.9 1236.4,249.4 C1237.2,256.9 1238.2,264.6 1239.0,270.0 C1239.8,275.4 1240.5,279.5 1241.5,282.0 C1242.5,284.5 1243.8,284.6 1245.0,285.0 C1246.2,285.4 1248.0,287.2 1249.0,284.7 C1250.0,282.2 1250.2,275.0 1251.0,270.0 C1251.8,265.0 1251.8,257.0 1254.0,254.5 C1256.2,252.0 1260.7,254.8 1264.0,255.0 C1267.3,255.2 1271.7,252.9 1274.0,255.7 C1276.3,258.5 1276.7,266.3 1278.0,272.0 C1279.3,277.7 1279.1,286.8 1281.8,289.8 C1284.5,292.8 1291.4,293.9 1294.4,289.8 C1297.4,285.7 1298.3,272.6 1300.0,265.0 C1301.7,257.4 1302.3,247.9 1304.5,244.4 C1306.7,240.9 1310.1,243.6 1313.0,244.0 C1315.9,244.4 1319.5,244.7 1322.0,247.0 C1324.5,249.3 1325.9,254.2 1328.0,258.0 C1330.1,261.8 1332.4,269.9 1334.7,269.6 C1337.0,269.3 1339.7,260.2 1342.0,256.0 C1344.3,251.8 1345.8,245.3 1348.5,244.6 C1351.2,243.9 1354.6,250.0 1358.0,252.0 C1361.4,254.0 1365.0,256.2 1368.7,256.4 C1372.4,256.6 1376.1,253.7 1380.0,253.0 C1383.9,252.3 1387.9,251.4 1392.2,252.2 C1396.5,253.0 1399.2,255.9 1405.7,258.0 C1412.2,260.1 1421.1,263.1 1430.9,264.8 C1440.7,266.5 1453.3,267.8 1464.5,268.1 C1475.7,268.4 1486.9,266.5 1498.1,266.4 C1509.3,266.3 1520.5,266.3 1531.7,267.3 C1542.9,268.3 1558.7,269.6 1565.4,272.3 C1572.1,275.0 1569.3,280.4 1572.1,283.3 C1574.9,286.2 1577.5,288.6 1582.2,290.0 C1586.9,291.4 1595.0,291.5 1600.0,291.7 C1605.0,291.9 1606.0,292.5 1612.0,291.3 C1618.0,290.1 1628.8,287.3 1636.0,284.6 C1643.2,281.9 1648.4,278.7 1655.0,275.0 C1661.6,271.3 1668.7,265.6 1675.4,262.4 C1682.1,259.2 1688.5,258.0 1695.0,256.0 C1701.5,254.0 1707.9,252.3 1714.6,250.6 C1721.3,248.9 1728.5,247.5 1735.0,246.0 C1741.5,244.5 1747.2,243.3 1753.8,241.5 C1760.4,239.7 1767.9,236.1 1774.8,235.0 C1781.7,233.9 1788.9,235.0 1795.0,235.0 C1801.1,235.0 1806.3,235.4 1811.4,235.0 C1816.5,234.6 1822.0,229.8 1825.8,232.3 C1829.6,234.8 1831.2,243.5 1834.0,250.0 C1836.8,256.5 1840.1,266.0 1842.8,271.5 C1845.5,277.0 1847.8,280.2 1850.0,283.0 C1852.2,285.8 1852.9,288.0 1855.8,288.5 C1858.7,289.0 1864.9,286.6 1867.6,286.0 C1870.3,285.4 1871.3,285.2 1872.0,285.0" fill="none" stroke="#4ee812" stroke-width="2.2"/>
<path d="M1070.0,287.0 C1070.8,285.0 1073.3,279.2 1075.0,275.0 C1076.7,270.8 1077.8,266.2 1080.0,262.0 C1082.2,257.8 1085.5,253.3 1088.0,250.0 C1090.5,246.7 1093.2,243.2 1095.0,242.0 C1096.8,240.8 1097.7,241.8 1099.0,243.0 C1100.3,244.2 1101.7,246.2 1103.0,249.4 C1104.3,252.6 1105.8,257.4 1107.0,262.0 C1108.2,266.6 1109.4,275.0 1110.4,277.0 C1111.4,279.0 1112.2,275.7 1113.0,274.0 C1113.8,272.3 1114.7,271.8 1115.5,267.0 C1116.3,262.2 1117.2,254.2 1118.0,245.0 C1118.8,235.8 1119.7,225.8 1120.5,211.6 C1121.3,197.4 1122.2,176.8 1123.0,160.0 C1123.8,143.2 1124.8,127.7 1125.5,111.0 C1126.2,94.3 1126.9,74.8 1127.5,60.0 C1128.1,45.2 1128.4,33.7 1129.0,22.0 C1129.6,10.3 1121.0,-4.7 1131.0,-10.0 C1141.0,-15.3 1179.0,-15.4 1189.0,-10.0 C1199.0,-4.6 1190.3,7.6 1191.0,22.6 C1191.7,37.6 1192.4,63.8 1193.0,80.0 C1193.6,96.2 1194.0,106.5 1194.5,120.0 C1195.0,133.5 1195.5,142.7 1196.0,161.0 C1196.5,179.3 1197.1,212.3 1197.5,230.0 C1197.9,247.7 1198.1,265.3 1198.6,267.0 C1199.1,268.7 1199.7,253.4 1200.5,240.0 C1201.3,226.6 1202.6,201.4 1203.7,186.4 C1204.8,171.4 1205.8,159.7 1207.0,150.0 C1208.2,140.3 1209.7,130.5 1211.0,128.5 C1212.3,126.5 1213.7,132.6 1215.0,138.0 C1216.3,143.4 1217.6,152.0 1218.8,161.0 C1220.0,170.0 1220.8,179.4 1222.0,192.0 C1223.2,204.6 1224.8,224.6 1226.0,236.8 C1227.2,249.0 1228.1,257.9 1229.0,265.0 C1229.9,272.1 1230.6,277.4 1231.4,279.7 C1232.2,282.0 1233.2,279.4 1234.0,279.0 C1234.8,278.6 1235.6,278.5 1236.4,277.0 C1237.2,275.5 1238.2,271.7 1239.0,270.0 C1239.8,268.3 1240.7,266.8 1241.5,267.0 C1242.3,267.2 1243.2,269.3 1244.0,271.0 C1244.8,272.7 1245.7,274.2 1246.5,277.0 C1247.3,279.8 1248.3,285.0 1249.0,288.0 C1249.7,291.0 1250.0,294.8 1250.8,294.8 C1251.6,294.8 1252.6,291.0 1254.0,288.0 C1255.4,285.0 1257.5,278.0 1259.0,277.0 C1260.5,276.0 1261.7,280.3 1263.0,282.0 C1264.3,283.7 1265.5,285.7 1266.7,287.0 C1267.9,288.3 1268.8,289.5 1270.0,290.0 C1271.2,290.5 1272.7,291.1 1274.0,289.8 C1275.3,288.5 1276.7,284.5 1278.0,282.0 C1279.3,279.5 1280.5,277.3 1281.8,274.6 C1283.1,271.9 1284.5,268.1 1286.0,266.0 C1287.5,263.9 1289.1,261.7 1290.6,262.0 C1292.1,262.3 1293.5,265.5 1295.0,268.0 C1296.5,270.5 1297.6,273.8 1299.4,277.0 C1301.2,280.2 1303.6,286.2 1305.7,287.0 C1307.8,287.8 1310.0,282.2 1312.0,282.0 C1314.0,281.8 1316.7,285.2 1318.0,286.0 C1319.3,286.8 1318.7,286.5 1320.0,287.0 C1321.3,287.5 1324.0,290.2 1326.0,289.0 C1328.0,287.8 1330.2,281.7 1332.0,280.0 C1333.8,278.3 1335.3,278.2 1337.0,279.0 C1338.7,279.8 1340.4,283.2 1342.0,285.0 C1343.6,286.8 1345.1,290.3 1346.8,290.0 C1348.5,289.7 1350.1,286.0 1352.0,283.0 C1353.9,280.0 1356.1,274.6 1358.0,272.0 C1359.9,269.4 1361.6,267.3 1363.6,267.3 C1365.6,267.3 1367.6,269.1 1370.0,272.0 C1372.4,274.9 1375.4,281.4 1378.0,285.0 C1380.6,288.6 1383.0,293.1 1385.5,293.3 C1388.0,293.5 1390.6,289.1 1393.0,286.0 C1395.4,282.9 1397.0,278.0 1400.0,275.0 C1403.0,272.0 1406.7,268.9 1410.7,268.1 C1414.7,267.3 1419.5,268.7 1424.0,270.0 C1428.5,271.3 1433.3,276.0 1437.6,275.7 C1441.9,275.4 1445.5,270.8 1450.0,268.0 C1454.5,265.2 1460.0,258.9 1464.5,258.9 C1469.0,258.9 1472.8,264.2 1477.0,268.0 C1481.2,271.8 1486.0,280.6 1489.7,281.6 C1493.4,282.6 1495.9,276.2 1499.0,274.0 C1502.1,271.8 1504.7,267.4 1508.2,268.1 C1511.7,268.8 1516.1,274.6 1520.0,278.0 C1523.9,281.4 1528.4,287.1 1531.7,288.3 C1535.0,289.5 1537.2,285.6 1540.0,285.0 C1542.8,284.4 1545.8,284.2 1548.6,284.9 C1551.4,285.6 1554.2,287.6 1557.0,289.0 C1559.8,290.4 1562.6,293.5 1565.4,293.3 C1568.2,293.1 1571.2,289.9 1574.0,288.0 C1576.8,286.1 1579.4,283.6 1582.2,281.6 C1585.0,279.6 1588.0,277.4 1591.0,276.0 C1594.0,274.6 1596.5,276.5 1600.0,273.2 C1603.5,269.9 1608.2,261.9 1612.0,256.0 C1615.8,250.1 1619.0,243.2 1623.0,237.5 C1627.0,231.8 1631.7,226.8 1636.0,222.0 C1640.3,217.2 1644.7,214.1 1649.0,208.8 C1653.3,203.5 1657.6,196.3 1662.0,190.0 C1666.4,183.7 1670.7,175.3 1675.4,170.8 C1680.1,166.3 1684.3,165.0 1690.0,163.0 C1695.7,161.0 1703.6,159.3 1709.4,159.0 C1715.2,158.7 1720.2,159.9 1725.0,161.0 C1729.8,162.1 1733.0,162.1 1738.0,165.6 C1743.0,169.1 1749.3,175.3 1755.0,182.0 C1760.7,188.7 1767.3,199.3 1772.0,206.0 C1776.7,212.7 1779.5,216.3 1783.0,222.0 C1786.5,227.7 1789.8,234.2 1793.0,240.0 C1796.2,245.8 1798.9,251.3 1802.0,257.0 C1805.1,262.7 1808.7,269.3 1811.4,274.0 C1814.1,278.7 1815.6,281.9 1818.0,285.0 C1820.4,288.1 1823.5,293.3 1825.8,292.5 C1828.1,291.7 1829.6,285.2 1832.0,280.0 C1834.4,274.8 1837.0,267.2 1840.0,261.0 C1843.0,254.8 1846.9,247.3 1850.0,243.0 C1853.1,238.7 1856.2,235.5 1858.5,235.0 C1860.8,234.5 1862.5,237.0 1864.0,240.0 C1865.5,243.0 1866.8,250.3 1867.6,253.0 C1868.4,255.7 1868.8,255.5 1869.0,256.0" fill="none" stroke="#1f8bef" stroke-width="5" stroke-linejoin="round" stroke-linecap="round"/>
<line x1="1166.6" y1="22.3" x2="1166.6" y2="296.1" stroke="#151010" stroke-width="2.6"/>
<line x1="1251.0" y1="22.3" x2="1251.0" y2="296.1" stroke="#4d7be3" stroke-width="1.5"/>
<line x1="1812.7" y1="22.3" x2="1812.7" y2="296.1" stroke="#8fe85f" stroke-width="1.8"/>
</g>
<line x1="1069.5" y1="22.3" x2="1069.5" y2="297.1" stroke="#8c8c8c" stroke-width="1"/>
<line x1="1061.5" y1="296.1" x2="1068.0" y2="296.1" stroke="#333" stroke-width="2"/>
<text transform="translate(1059.5,301.7) scale(0.840,1)" text-anchor="end" class="tk">0</text>
<line x1="1061.5" y1="241.4" x2="1068.0" y2="241.4" stroke="#333" stroke-width="2"/>
<text transform="translate(1059.5,247.0) scale(0.840,1)" text-anchor="end" class="tk">0.2</text>
<line x1="1061.5" y1="187.3" x2="1068.0" y2="187.3" stroke="#333" stroke-width="2"/>
<text transform="translate(1059.5,192.9) scale(0.840,1)" text-anchor="end" class="tk">0.4</text>
<line x1="1061.5" y1="132.6" x2="1068.0" y2="132.6" stroke="#333" stroke-width="2"/>
<text transform="translate(1059.5,138.2) scale(0.840,1)" text-anchor="end" class="tk">0.6</text>
<line x1="1872.5" y1="21.8" x2="1879.0" y2="21.8" stroke="#333" stroke-width="2.2"/>
<text transform="translate(1879.5,27.4) scale(0.840,1)" text-anchor="start" class="tk">1</text>
<line x1="1872.5" y1="79.3" x2="1879.0" y2="79.3" stroke="#333" stroke-width="2.2"/>
<text transform="translate(1879.5,84.9) scale(0.840,1)" text-anchor="start" class="tk">0.8</text>
<line x1="1872.5" y1="133.0" x2="1879.0" y2="133.0" stroke="#333" stroke-width="2.2"/>
<text transform="translate(1879.5,138.6) scale(0.840,1)" text-anchor="start" class="tk">0.6</text>
<line x1="1872.5" y1="187.8" x2="1879.0" y2="187.8" stroke="#333" stroke-width="2.2"/>
<text transform="translate(1879.5,193.4) scale(0.840,1)" text-anchor="start" class="tk">0.4</text>
<line x1="1872.5" y1="241.5" x2="1879.0" y2="241.5" stroke="#333" stroke-width="2.2"/>
<text transform="translate(1879.5,247.1) scale(0.840,1)" text-anchor="start" class="tk">0.2</text>
<line x1="1872.5" y1="296.4" x2="1879.0" y2="296.4" stroke="#333" stroke-width="2.2"/>
<text transform="translate(1879.5,302.0) scale(0.840,1)" text-anchor="start" class="tk">0</text>
<line x1="1070.8" y1="300.1" x2="1070.8" y2="306.1" stroke="#333" stroke-width="1.6"/>
<text transform="translate(1070.8,322.9) scale(0.840,1)" text-anchor="middle" class="tk">0.24</text>
<line x1="1097.5" y1="300.1" x2="1097.5" y2="306.1" stroke="#333" stroke-width="1.6"/>
<line x1="1207.0" y1="300.1" x2="1207.0" y2="306.1" stroke="#333" stroke-width="1.6"/>
<text transform="translate(1207.0,322.9) scale(0.840,1)" text-anchor="middle" class="tk">0.3</text>
<line x1="1315.8" y1="300.1" x2="1315.8" y2="306.1" stroke="#333" stroke-width="1.6"/>
<text transform="translate(1315.8,322.9) scale(0.840,1)" text-anchor="middle" class="tk">0.35</text>
<line x1="1425.2" y1="300.1" x2="1425.2" y2="306.1" stroke="#333" stroke-width="1.6"/>
<text transform="translate(1425.2,322.9) scale(0.840,1)" text-anchor="middle" class="tk">0.4</text>
<line x1="1534.1" y1="300.1" x2="1534.1" y2="306.1" stroke="#333" stroke-width="1.6"/>
<text transform="translate(1534.1,322.9) scale(0.840,1)" text-anchor="middle" class="tk">0.45</text>
<line x1="1643.5" y1="300.1" x2="1643.5" y2="306.1" stroke="#333" stroke-width="1.6"/>
<text transform="translate(1643.5,322.9) scale(0.840,1)" text-anchor="middle" class="tk">0.5</text>
<line x1="1753.8" y1="300.1" x2="1753.8" y2="306.1" stroke="#333" stroke-width="1.6"/>
<text transform="translate(1753.8,322.9) scale(0.840,1)" text-anchor="middle" class="tk">0.55</text>
<line x1="1863.2" y1="300.1" x2="1863.2" y2="306.1" stroke="#333" stroke-width="1.6"/>
<text transform="translate(1863.2,322.9) scale(0.840,1)" text-anchor="middle" class="tk">0.6</text>
<line x1="1867.8" y1="300.1" x2="1867.8" y2="306.1" stroke="#333" stroke-width="1.6"/>
<text transform="translate(1467.7,346.0) scale(0.875,1)" text-anchor="middle" class="tk">Time (s)</text>
<text transform="translate(1918.6,161.7) rotate(90) scale(0.92,1)" text-anchor="middle" class="tk" y="5.6">RMS</text>
<text transform="translate(1022.5,198.0) rotate(-90) scale(0.9,1)" class="tk" y="5.6">PLP Score</text>
<text transform="translate(1150.7,76.7) scale(0.880,1)" text-anchor="start" class="an" fill="#454545" stroke="#454545">0.702</text>
<text transform="translate(1150.7,96.5) scale(0.880,1)" text-anchor="start" class="an" fill="#454545" stroke="#454545">0.283 s</text>
<text transform="translate(1150.7,116.3) scale(0.880,1)" text-anchor="start" class="an" fill="#454545" stroke="#454545">5.072 pT</text>
<text transform="translate(1303.2,114.5) scale(0.880,1)" text-anchor="start" class="an" fill="#1a1a1a" stroke="#1a1a1a">-5.030 pT/s</text>
<text transform="translate(1303.2,134.3) scale(0.880,1)" text-anchor="start" class="an" fill="#1a1a1a" stroke="#1a1a1a">0.321 s</text>
<text transform="translate(1303.2,154.1) scale(0.880,1)" text-anchor="start" class="an" fill="#1a1a1a" stroke="#1a1a1a">0.004 pT</text>
<text transform="translate(1777.4,51.5) scale(0.880,1)" text-anchor="start" class="an" fill="#252525" stroke="#252525">0.937 pT/s</text>
<text transform="translate(1777.4,71.3) scale(0.880,1)" text-anchor="start" class="an" fill="#252525" stroke="#252525">0.577 s</text>
<text transform="translate(1777.4,91.1) scale(0.880,1)" text-anchor="start" class="an" fill="#252525" stroke="#252525">0.228 pT</text>
<rect x="994.0" y="6.6" width="938.0" height="3.2" fill="#b3161d"/>
<rect x="993.5" y="6.6" width="3.0" height="355.0" fill="#e02222"/>
<rect x="996.5" y="136.0" width="1.6" height="217.0" fill="#f2f6f6"/>
<rect x="996.5" y="353.5" width="934.0" height="2.0" fill="#9a9a9a"/>
<rect x="994.0" y="358.4" width="938.0" height="3.0" fill="#e23a3a"/>
<rect x="1930.2" y="6.6" width="2.6" height="355.0" fill="#e04646"/>
<rect x="994.0" y="7.6" width="116.3" height="128.6" fill="#fff" stroke="#111" stroke-width="2.6"/>
<text transform="translate(1045.6,87.8) scale(0.97,1)" text-anchor="middle" class="lt">B</text>
<clipPath id="clipC"><rect x="94.0" y="446.0" width="776.0" height="269.0"/></clipPath>
<rect x="18.0" y="431.0" width="919.0" height="339.0" fill="#e1e1e1"/>
<rect x="136.0" y="432.6" width="799.0" height="3.0" fill="#f3f7f7"/>
<rect x="136.0" y="435.6" width="799.0" height="1.8" fill="#8e9a96"/>
<rect x="136.0" y="437.4" width="799.0" height="6.6" fill="#efefef"/>
<rect x="136.0" y="444.0" width="734.0" height="2.0" fill="#a9a9a9"/>
<rect x="94.0" y="446.0" width="776.0" height="269.0" fill="#ffffff"/>
<g clip-path="url(#clipC)">
<path d="M94.0,470.0 C96.7,473.3 105.7,482.5 110.0,490.0 C114.3,497.5 117.3,506.7 120.0,515.0 C122.7,523.3 124.3,533.2 126.0,540.0 C127.7,546.8 129.2,549.3 130.4,556.0 C131.6,562.7 132.2,571.6 133.0,580.0 C133.8,588.4 134.7,597.8 135.5,606.5 C136.3,615.2 137.2,623.6 138.0,632.0 C138.8,640.4 139.7,648.9 140.5,656.9 C141.3,664.9 142.2,672.9 143.0,680.0 C143.8,687.1 144.5,698.4 145.5,699.7 C146.5,701.0 147.8,693.0 149.0,688.0 C150.2,683.0 151.5,676.7 153.0,669.5 C154.5,662.3 156.3,653.0 158.0,645.0 C159.7,637.0 161.5,628.6 163.2,621.6 C164.9,614.6 166.3,608.9 168.0,603.0 C169.7,597.1 171.5,591.5 173.3,586.3 C175.1,581.1 176.9,576.2 179.0,572.0 C181.1,567.8 183.9,563.5 185.9,561.0 C187.9,558.5 189.3,558.0 191.0,557.0 C192.7,556.0 194.5,554.8 196.0,554.8 C197.5,554.8 198.8,556.0 200.0,557.0 C201.2,558.0 202.3,559.0 203.5,561.0 C204.7,563.0 205.8,565.7 207.0,569.0 C208.2,572.3 209.5,575.3 211.0,581.0 C212.5,586.7 214.3,594.5 216.0,603.0 C217.7,611.5 219.5,622.2 221.0,631.7 C222.5,641.2 223.7,649.5 225.0,660.0 C226.3,670.5 227.7,687.2 228.7,694.7 C229.7,702.2 230.2,702.5 231.0,705.0 C231.8,707.5 232.8,710.6 233.8,709.8 C234.8,709.0 235.8,704.6 237.0,700.0 C238.2,695.4 240.0,690.3 241.3,682.0 C242.6,673.7 243.7,660.5 245.0,650.0 C246.3,639.5 247.8,629.8 248.9,619.0 C250.0,608.2 250.7,593.8 251.5,585.0 C252.3,576.2 253.2,566.0 254.0,566.0 C254.8,566.0 255.4,578.2 256.0,585.0 C256.6,591.8 257.1,596.7 257.7,606.5 C258.3,616.3 258.9,644.0 259.5,644.0 C260.1,644.0 260.8,622.2 261.5,606.5 C262.2,590.8 263.2,566.8 264.0,550.0 C264.8,533.2 265.7,516.9 266.5,505.6 C267.3,494.3 268.1,488.3 269.0,482.0 C269.9,475.7 270.5,471.0 271.6,467.8 C272.7,464.6 274.2,463.3 275.4,462.8 C276.6,462.3 277.9,464.2 279.0,465.0 C280.1,465.8 280.7,465.6 281.7,467.8 C282.7,470.0 283.8,473.8 285.0,478.0 C286.2,482.2 287.7,487.7 289.2,493.0 C290.7,498.3 292.3,505.4 294.0,510.0 C295.7,514.6 297.5,520.4 299.3,520.7 C301.1,521.0 302.9,515.4 305.0,512.0 C307.1,508.6 310.1,504.6 311.9,500.6 C313.7,496.6 314.7,491.4 316.0,488.0 C317.3,484.6 318.2,482.6 319.5,480.4 C320.8,478.2 322.5,476.1 324.0,475.0 C325.5,473.9 326.6,472.5 328.3,474.0 C330.0,475.5 332.1,480.3 334.0,484.0 C335.9,487.7 337.9,493.3 340.0,496.0 C342.1,498.7 344.3,500.7 346.3,500.0 C348.3,499.3 350.1,495.0 352.0,492.0 C353.9,489.0 355.9,484.5 358.0,482.0 C360.1,479.5 362.8,476.7 364.8,477.0 C366.8,477.3 368.3,481.3 370.0,484.0 C371.7,486.7 373.3,490.0 375.0,493.0 C376.7,496.0 378.3,499.3 380.0,502.0 C381.7,504.7 383.3,508.9 385.0,509.4 C386.7,509.9 388.3,506.3 390.0,505.0 C391.7,503.7 392.1,503.0 395.0,501.8 C397.9,500.6 403.9,497.8 407.7,498.0 C411.5,498.2 414.9,502.7 417.8,503.0 C420.7,503.3 422.5,501.2 425.0,500.0 C427.5,498.8 429.6,497.7 433.0,495.5 C436.4,493.3 441.7,488.8 445.5,486.7 C449.3,484.6 451.4,482.8 455.6,483.0 C459.8,483.2 466.6,487.0 470.7,488.0 C474.8,489.0 476.4,489.1 480.0,489.2 C483.6,489.3 488.4,487.4 492.6,488.5 C496.8,489.6 500.6,492.6 505.2,495.5 C509.8,498.4 515.7,504.1 520.3,505.6 C524.9,507.1 528.0,503.5 533.0,504.4 C538.0,505.2 545.8,510.6 550.6,510.7 C555.4,510.8 558.4,506.5 562.0,505.0 C565.6,503.5 569.0,501.8 572.0,501.8 C575.0,501.8 577.3,503.5 580.0,505.0 C582.7,506.5 583.2,507.6 588.4,510.7 C593.6,513.8 603.0,518.7 611.0,523.3 C619.0,527.9 628.7,535.4 636.3,538.4 C643.9,541.4 648.9,539.5 656.5,541.0 C664.1,542.5 673.3,544.9 681.7,547.2 C690.1,549.5 699.4,552.5 706.9,554.8 C714.4,557.1 721.5,559.5 727.0,561.0 C732.5,562.5 735.8,563.1 740.0,563.5 C744.2,563.9 748.0,564.2 752.2,563.6 C756.4,563.0 760.8,561.7 765.0,560.0 C769.2,558.3 773.0,556.0 777.5,553.5 C782.0,551.0 787.0,548.4 792.0,545.0 C797.0,541.6 803.0,536.9 807.7,533.4 C812.4,529.9 815.8,527.4 820.0,524.0 C824.2,520.6 829.2,516.9 833.0,513.2 C836.8,509.5 839.7,505.8 843.0,502.0 C846.3,498.2 849.8,494.2 853.0,490.5 C856.2,486.8 859.2,483.6 862.0,480.0 C864.8,476.4 867.3,472.0 869.5,469.0 C871.7,466.0 874.1,463.2 875.0,462.0 L875.0,713.3 L94.0,713.3 Z" fill="#fbd6c9" stroke="none"/>
<path d="M94.0,470.0 C96.7,473.3 105.7,482.5 110.0,490.0 C114.3,497.5 117.3,506.7 120.0,515.0 C122.7,523.3 124.3,533.2 126.0,540.0 C127.7,546.8 129.2,549.3 130.4,556.0 C131.6,562.7 132.2,571.6 133.0,580.0 C133.8,588.4 134.7,597.8 135.5,606.5 C136.3,615.2 137.2,623.6 138.0,632.0 C138.8,640.4 139.7,648.9 140.5,656.9 C141.3,664.9 142.2,672.9 143.0,680.0 C143.8,687.1 144.5,698.4 145.5,699.7 C146.5,701.0 147.8,693.0 149.0,688.0 C150.2,683.0 151.5,676.7 153.0,669.5 C154.5,662.3 156.3,653.0 158.0,645.0 C159.7,637.0 161.5,628.6 163.2,621.6 C164.9,614.6 166.3,608.9 168.0,603.0 C169.7,597.1 171.5,591.5 173.3,586.3 C175.1,581.1 176.9,576.2 179.0,572.0 C181.1,567.8 183.9,563.5 185.9,561.0 C187.9,558.5 189.3,558.0 191.0,557.0 C192.7,556.0 194.5,554.8 196.0,554.8 C197.5,554.8 198.8,556.0 200.0,557.0 C201.2,558.0 202.3,559.0 203.5,561.0 C204.7,563.0 205.8,565.7 207.0,569.0 C208.2,572.3 209.5,575.3 211.0,581.0 C212.5,586.7 214.3,594.5 216.0,603.0 C217.7,611.5 219.5,622.2 221.0,631.7 C222.5,641.2 223.7,649.5 225.0,660.0 C226.3,670.5 227.7,687.2 228.7,694.7 C229.7,702.2 230.2,702.5 231.0,705.0 C231.8,707.5 232.8,710.6 233.8,709.8 C234.8,709.0 235.8,704.6 237.0,700.0 C238.2,695.4 240.0,690.3 241.3,682.0 C242.6,673.7 243.7,660.5 245.0,650.0 C246.3,639.5 247.8,629.8 248.9,619.0 C250.0,608.2 250.7,593.8 251.5,585.0 C252.3,576.2 253.2,566.0 254.0,566.0 C254.8,566.0 255.4,578.2 256.0,585.0 C256.6,591.8 257.1,596.7 257.7,606.5 C258.3,616.3 258.9,644.0 259.5,644.0 C260.1,644.0 260.8,622.2 261.5,606.5 C262.2,590.8 263.2,566.8 264.0,550.0 C264.8,533.2 265.7,516.9 266.5,505.6 C267.3,494.3 268.1,488.3 269.0,482.0 C269.9,475.7 270.5,471.0 271.6,467.8 C272.7,464.6 274.2,463.3 275.4,462.8 C276.6,462.3 277.9,464.2 279.0,465.0 C280.1,465.8 280.7,465.6 281.7,467.8 C282.7,470.0 283.8,473.8 285.0,478.0 C286.2,482.2 287.7,487.7 289.2,493.0 C290.7,498.3 292.3,505.4 294.0,510.0 C295.7,514.6 297.5,520.4 299.3,520.7 C301.1,521.0 302.9,515.4 305.0,512.0 C307.1,508.6 310.1,504.6 311.9,500.6 C313.7,496.6 314.7,491.4 316.0,488.0 C317.3,484.6 318.2,482.6 319.5,480.4 C320.8,478.2 322.5,476.1 324.0,475.0 C325.5,473.9 326.6,472.5 328.3,474.0 C330.0,475.5 332.1,480.3 334.0,484.0 C335.9,487.7 337.9,493.3 340.0,496.0 C342.1,498.7 344.3,500.7 346.3,500.0 C348.3,499.3 350.1,495.0 352.0,492.0 C353.9,489.0 355.9,484.5 358.0,482.0 C360.1,479.5 362.8,476.7 364.8,477.0 C366.8,477.3 368.3,481.3 370.0,484.0 C371.7,486.7 373.3,490.0 375.0,493.0 C376.7,496.0 378.3,499.3 380.0,502.0 C381.7,504.7 383.3,508.9 385.0,509.4 C386.7,509.9 388.3,506.3 390.0,505.0 C391.7,503.7 392.1,503.0 395.0,501.8 C397.9,500.6 403.9,497.8 407.7,498.0 C411.5,498.2 414.9,502.7 417.8,503.0 C420.7,503.3 422.5,501.2 425.0,500.0 C427.5,498.8 429.6,497.7 433.0,495.5 C436.4,493.3 441.7,488.8 445.5,486.7 C449.3,484.6 451.4,482.8 455.6,483.0 C459.8,483.2 466.6,487.0 470.7,488.0 C474.8,489.0 476.4,489.1 480.0,489.2 C483.6,489.3 488.4,487.4 492.6,488.5 C496.8,489.6 500.6,492.6 505.2,495.5 C509.8,498.4 515.7,504.1 520.3,505.6 C524.9,507.1 528.0,503.5 533.0,504.4 C538.0,505.2 545.8,510.6 550.6,510.7 C555.4,510.8 558.4,506.5 562.0,505.0 C565.6,503.5 569.0,501.8 572.0,501.8 C575.0,501.8 577.3,503.5 580.0,505.0 C582.7,506.5 583.2,507.6 588.4,510.7 C593.6,513.8 603.0,518.7 611.0,523.3 C619.0,527.9 628.7,535.4 636.3,538.4 C643.9,541.4 648.9,539.5 656.5,541.0 C664.1,542.5 673.3,544.9 681.7,547.2 C690.1,549.5 699.4,552.5 706.9,554.8 C714.4,557.1 721.5,559.5 727.0,561.0 C732.5,562.5 735.8,563.1 740.0,563.5 C744.2,563.9 748.0,564.2 752.2,563.6 C756.4,563.0 760.8,561.7 765.0,560.0 C769.2,558.3 773.0,556.0 777.5,553.5 C782.0,551.0 787.0,548.4 792.0,545.0 C797.0,541.6 803.0,536.9 807.7,533.4 C812.4,529.9 815.8,527.4 820.0,524.0 C824.2,520.6 829.2,516.9 833.0,513.2 C836.8,509.5 839.7,505.8 843.0,502.0 C846.3,498.2 849.8,494.2 853.0,490.5 C856.2,486.8 859.2,483.6 862.0,480.0 C864.8,476.4 867.3,472.0 869.5,469.0 C871.7,466.0 874.1,463.2 875.0,462.0" fill="none" stroke="#e3485a" stroke-width="1.9"/>
<path d="M94.0,707.3 C95.3,706.1 99.3,702.5 102.0,700.0 C104.7,697.5 107.5,694.9 110.2,692.2 C112.9,689.5 115.5,686.5 118.0,684.0 C120.5,681.5 123.1,680.2 125.4,677.0 C127.7,673.8 129.9,669.6 132.0,665.0 C134.1,660.4 136.2,655.1 138.0,649.3 C139.8,643.5 141.3,637.1 143.0,630.0 C144.7,622.9 146.5,616.5 148.0,606.5 C149.5,596.5 150.7,582.6 152.0,570.0 C153.3,557.4 154.3,544.1 155.6,530.8 C156.9,517.5 158.3,503.9 160.0,490.0 C161.7,476.1 164.4,459.3 165.7,447.6 C167.0,435.9 160.4,424.6 168.0,420.0 C175.6,415.4 203.4,415.4 211.0,420.0 C218.6,424.6 212.6,437.6 213.6,447.6 C214.6,457.6 215.7,469.5 217.0,480.0 C218.3,490.5 219.7,500.4 221.2,510.7 C222.7,521.0 224.3,531.9 226.0,542.0 C227.7,552.1 229.5,561.5 231.2,571.2 C232.9,580.9 234.3,589.9 236.0,600.0 C237.7,610.1 239.6,622.4 241.3,631.7 C243.0,641.0 244.3,648.5 246.0,656.0 C247.7,663.5 249.7,671.3 251.4,677.0 C253.1,682.7 254.3,686.6 256.0,690.0 C257.7,693.4 259.8,697.5 261.5,697.2 C263.2,696.9 264.3,690.9 266.0,688.0 C267.7,685.1 269.0,680.6 271.6,679.6 C274.2,678.6 277.9,682.0 281.7,682.0 C285.5,682.0 290.6,681.3 294.3,679.6 C298.0,677.9 300.6,674.5 304.0,672.0 C307.4,669.5 311.2,665.1 314.4,664.4 C317.6,663.7 320.1,666.7 323.0,668.0 C325.9,669.3 328.9,672.7 332.1,672.0 C335.3,671.3 338.6,666.5 342.0,664.0 C345.4,661.5 349.2,657.6 352.2,656.9 C355.2,656.2 357.1,658.8 360.0,660.0 C362.9,661.2 366.2,664.1 369.9,664.4 C373.6,664.7 377.8,662.8 382.0,662.0 C386.2,661.2 388.6,659.4 395.0,659.4 C401.4,659.4 413.6,662.5 420.3,661.9 C427.0,661.3 430.8,657.5 435.0,656.0 C439.2,654.5 441.7,653.8 445.5,653.0 C449.3,652.2 453.8,651.4 458.0,651.0 C462.2,650.6 467.0,650.9 470.7,650.6 C474.4,650.3 476.8,649.9 480.0,649.3 C483.2,648.7 485.8,646.6 490.0,646.8 C494.2,647.0 499.3,650.8 505.2,650.6 C511.1,650.4 518.3,645.9 525.4,645.5 C532.5,645.1 540.5,649.0 548.0,648.0 C555.5,647.0 564.4,640.7 570.7,639.2 C577.0,637.7 579.2,640.5 585.9,639.2 C592.6,638.0 603.5,633.8 611.0,631.7 C618.5,629.6 623.6,630.0 631.2,626.6 C638.8,623.2 648.1,616.5 656.5,611.5 C664.9,606.5 673.3,602.3 681.7,596.4 C690.1,590.5 700.5,581.1 706.9,576.2 C713.3,571.3 715.8,569.9 720.0,567.0 C724.2,564.1 726.6,560.9 732.0,558.6 C737.4,556.3 746.7,554.2 752.2,553.0 C757.7,551.8 759.9,551.2 764.9,551.5 C769.9,551.8 777.5,552.9 782.5,554.8 C787.5,556.7 790.8,559.4 795.0,563.0 C799.2,566.6 803.5,571.7 807.7,576.2 C811.9,580.7 815.8,585.0 820.0,590.0 C824.2,595.0 829.2,601.3 833.0,606.5 C836.8,611.7 839.7,616.0 843.0,621.0 C846.3,626.0 849.8,631.9 853.0,636.7 C856.2,641.5 859.2,645.8 862.0,650.0 C864.8,654.2 867.8,659.4 869.5,661.9 C871.2,664.4 871.6,664.5 872.0,665.0" fill="none" stroke="#4e4646" stroke-width="2" stroke-dasharray="2 2.2"/>
<path d="M94.0,711.0 C96.7,710.8 106.4,710.5 110.2,709.8 C114.0,709.1 114.9,708.3 117.0,707.0 C119.1,705.7 121.1,705.0 122.9,702.2 C124.7,699.4 126.3,695.5 128.0,690.0 C129.7,684.5 131.6,676.2 132.9,669.5 C134.2,662.8 134.7,656.3 136.0,650.0 C137.3,643.7 139.0,638.7 140.5,631.7 C142.0,624.7 143.3,615.6 145.0,608.0 C146.7,600.4 148.6,593.0 150.6,586.3 C152.6,579.6 154.9,573.5 157.0,568.0 C159.1,562.5 161.0,558.0 163.2,553.5 C165.4,549.0 167.9,544.8 170.0,541.0 C172.1,537.2 173.6,534.2 175.8,530.8 C178.0,527.4 181.4,522.0 183.4,520.7 C185.4,519.4 186.3,521.7 188.0,523.0 C189.7,524.3 191.4,525.8 193.4,528.3 C195.4,530.8 197.9,535.0 200.0,538.0 C202.1,541.0 204.2,545.5 206.0,546.0 C207.8,546.5 209.3,542.7 211.0,541.0 C212.7,539.3 214.6,537.4 216.1,535.9 C217.6,534.4 218.7,532.9 220.0,532.0 C221.3,531.1 222.5,529.5 223.7,530.8 C224.9,532.1 225.8,535.8 227.0,540.0 C228.2,544.2 229.9,549.7 231.2,556.0 C232.5,562.3 233.7,569.6 235.0,578.0 C236.3,586.4 237.6,597.5 238.8,606.5 C240.1,615.5 241.2,623.6 242.5,632.0 C243.8,640.4 245.2,649.2 246.4,656.9 C247.7,664.6 248.8,671.7 250.0,678.0 C251.2,684.3 252.6,690.5 253.9,694.7 C255.2,698.9 256.7,700.9 258.0,703.0 C259.3,705.1 259.5,706.5 261.5,707.3 C263.5,708.1 266.6,707.8 270.0,708.0 C273.4,708.2 277.5,709.0 281.7,708.5 C285.9,708.0 290.2,706.4 295.0,705.0 C299.8,703.6 306.3,700.3 310.5,700.3 C314.7,700.3 316.6,703.6 320.0,705.0 C323.4,706.4 327.5,708.6 331.2,708.4 C334.9,708.2 338.5,705.1 342.0,704.0 C345.5,702.9 348.8,701.5 352.0,701.5 C355.2,701.5 357.9,703.2 361.0,704.0 C364.1,704.8 367.7,706.3 370.5,706.0 C373.3,705.7 375.3,703.1 378.0,702.0 C380.7,700.9 381.4,699.5 386.7,699.2 C392.0,698.9 402.3,699.7 410.0,700.0 C417.7,700.3 421.2,700.8 432.9,701.0 C444.6,701.2 467.9,701.0 480.0,701.0 C492.1,701.0 497.6,701.6 505.2,701.0 C512.8,700.4 512.8,698.0 525.4,697.2 C538.0,696.4 565.3,697.7 580.8,696.0 C596.3,694.3 606.0,690.3 618.6,687.1 C631.2,683.9 646.0,679.9 656.5,677.0 C667.0,674.1 673.3,672.6 681.7,669.5 C690.1,666.4 698.5,661.9 706.9,658.1 C715.3,654.3 725.6,649.1 732.0,646.8 C738.4,644.4 740.8,644.6 745.0,644.0 C749.2,643.4 753.1,642.7 757.3,643.0 C761.5,643.3 765.8,644.5 770.0,646.0 C774.2,647.5 778.3,649.6 782.5,651.8 C786.7,654.0 790.8,656.5 795.0,659.0 C799.2,661.5 803.5,664.0 807.7,667.0 C811.9,670.0 815.8,673.6 820.0,677.0 C824.2,680.4 827.5,683.1 833.0,687.1 C838.5,691.1 847.1,697.4 853.0,701.0 C858.9,704.6 865.0,707.0 868.2,708.5 C871.4,710.0 871.4,709.8 872.0,710.0" fill="none" stroke="#4ee812" stroke-width="2.2"/>
<path d="M94.0,709.8 C95.0,708.8 98.1,706.1 100.0,704.0 C101.9,701.9 103.4,699.7 105.2,697.2 C107.0,694.7 108.9,691.5 111.0,689.0 C113.1,686.5 115.4,683.4 117.8,682.0 C120.2,680.6 123.4,680.1 125.4,680.8 C127.4,681.5 128.3,683.7 130.0,686.0 C131.7,688.3 133.8,692.0 135.5,694.7 C137.2,697.4 138.3,699.9 140.0,702.0 C141.7,704.1 143.8,707.8 145.5,707.3 C147.2,706.8 148.3,703.2 150.0,699.0 C151.7,694.8 153.9,689.3 155.6,682.0 C157.3,674.7 158.3,665.5 160.0,655.0 C161.7,644.5 164.0,630.7 165.7,619.0 C167.4,607.3 168.3,597.6 170.0,585.0 C171.7,572.4 174.1,556.7 175.8,543.4 C177.5,530.1 178.7,515.5 180.0,505.0 C181.3,494.5 182.2,487.6 183.4,480.4 C184.6,473.2 185.7,466.8 187.0,462.0 C188.3,457.2 189.7,452.4 191.0,451.4 C192.3,450.4 193.8,453.3 195.0,456.0 C196.2,458.7 197.3,461.8 198.5,467.8 C199.7,473.8 200.8,481.5 202.0,492.0 C203.2,502.5 204.7,517.8 206.0,530.8 C207.3,543.8 208.7,557.4 210.0,570.0 C211.3,582.6 212.4,594.8 213.6,606.5 C214.8,618.2 215.7,629.5 217.0,640.0 C218.3,650.5 219.9,660.8 221.2,669.5 C222.5,678.2 223.8,685.7 225.0,692.0 C226.2,698.3 227.2,704.3 228.7,707.3 C230.2,710.3 232.4,710.5 233.8,709.8 C235.2,709.1 235.8,705.1 237.0,703.0 C238.2,700.9 239.5,699.0 241.3,697.2 C243.1,695.4 246.0,692.7 247.6,692.2 C249.2,691.7 249.9,693.2 251.0,694.0 C252.1,694.8 252.7,695.0 254.0,697.2 C255.3,699.4 257.7,706.3 259.0,707.3 C260.3,708.3 260.8,705.1 262.0,703.0 C263.2,700.9 265.2,697.5 266.5,694.7 C267.8,691.9 268.7,688.3 270.0,686.0 C271.3,683.7 272.2,681.0 274.1,680.8 C276.1,680.6 279.4,683.4 281.7,684.6 C284.0,685.8 285.9,687.2 288.0,688.0 C290.1,688.8 292.3,690.1 294.3,689.6 C296.3,689.1 297.9,686.7 300.0,685.0 C302.1,683.3 304.1,681.8 306.9,679.6 C309.7,677.4 314.5,673.1 317.0,672.0 C319.5,670.9 320.3,672.4 322.0,673.0 C323.7,673.6 324.5,674.7 327.0,675.8 C329.5,676.9 334.6,679.6 337.1,679.6 C339.6,679.6 340.3,677.3 342.0,676.0 C343.7,674.7 344.6,673.7 347.2,672.0 C349.8,670.3 353.9,665.7 357.3,665.7 C360.7,665.7 363.6,670.3 367.4,672.0 C371.2,673.7 375.4,676.0 380.0,675.8 C384.6,675.6 390.4,671.1 395.0,670.7 C399.6,670.3 403.1,672.9 407.7,673.3 C412.3,673.7 417.8,674.8 422.8,673.3 C427.9,671.8 432.1,666.1 438.0,664.4 C443.9,662.7 452.1,663.6 458.0,663.2 C463.9,662.8 469.5,662.6 473.2,662.0 C476.9,661.4 477.2,660.0 480.0,659.4 C482.8,658.8 485.8,657.7 490.0,658.1 C494.2,658.5 499.3,661.5 505.2,661.9 C511.1,662.3 518.3,660.4 525.4,660.6 C532.5,660.8 540.9,664.0 548.0,663.2 C555.1,662.4 558.5,657.1 568.2,655.6 C577.9,654.1 595.5,654.1 606.0,654.3 C616.5,654.5 622.8,657.7 631.2,656.9 C639.6,656.1 648.1,651.8 656.5,649.3 C664.9,646.8 673.3,644.9 681.7,641.7 C690.1,638.6 698.5,633.3 706.9,630.4 C715.3,627.5 724.5,625.4 732.0,624.1 C739.5,622.8 743.8,623.8 752.2,622.8 C760.6,621.8 773.2,618.0 782.5,617.8 C791.8,617.6 801.5,619.7 807.7,621.6 C814.0,623.5 815.8,626.1 820.0,629.0 C824.2,631.9 827.5,635.0 833.0,639.2 C838.5,643.4 847.1,649.9 853.0,654.3 C858.9,658.7 865.0,663.4 868.2,665.7 C871.4,668.0 871.4,667.6 872.0,668.0" fill="none" stroke="#1f8bef" stroke-width="5" stroke-linejoin="round" stroke-linecap="round"/>
<line x1="189.0" y1="446.0" x2="189.0" y2="713.3" stroke="#151010" stroke-width="2.6"/>
<line x1="259.0" y1="446.0" x2="259.0" y2="713.3" stroke="#4d7be3" stroke-width="1.5"/>
<line x1="751.7" y1="446.0" x2="751.7" y2="713.3" stroke="#8fe85f" stroke-width="1.8"/>
</g>
<line x1="93.5" y1="446.0" x2="93.5" y2="714.3" stroke="#8c8c8c" stroke-width="1"/>
<line x1="85.5" y1="713.3" x2="92.0" y2="713.3" stroke="#333" stroke-width="2"/>
<text transform="translate(83.5,718.9) scale(0.840,1)" text-anchor="end" class="tk">0</text>
<line x1="85.5" y1="660.1" x2="92.0" y2="660.1" stroke="#333" stroke-width="2"/>
<text transform="translate(83.5,665.7) scale(0.840,1)" text-anchor="end" class="tk">0.2</text>
<line x1="85.5" y1="607.0" x2="92.0" y2="607.0" stroke="#333" stroke-width="2"/>
<text transform="translate(83.5,612.6) scale(0.840,1)" text-anchor="end" class="tk">0.4</text>
<line x1="85.5" y1="553.8" x2="92.0" y2="553.8" stroke="#333" stroke-width="2"/>
<text transform="translate(83.5,559.4) scale(0.840,1)" text-anchor="end" class="tk">0.6</text>
<line x1="873.0" y1="446.4" x2="879.0" y2="446.4" stroke="#333" stroke-width="2.2"/>
<text transform="translate(893.0,452.0) scale(0.840,1)" text-anchor="middle" class="tk">2</text>
<line x1="873.0" y1="479.2" x2="879.0" y2="479.2" stroke="#333" stroke-width="2.2"/>
<text transform="translate(893.0,484.8) scale(0.840,1)" text-anchor="middle" class="tk">1.75</text>
<line x1="873.0" y1="513.2" x2="879.0" y2="513.2" stroke="#333" stroke-width="2.2"/>
<text transform="translate(893.0,518.8) scale(0.840,1)" text-anchor="middle" class="tk">1.5</text>
<line x1="873.0" y1="546.0" x2="879.0" y2="546.0" stroke="#333" stroke-width="2.2"/>
<text transform="translate(893.0,551.6) scale(0.840,1)" text-anchor="middle" class="tk">1.25</text>
<line x1="873.0" y1="580.0" x2="879.0" y2="580.0" stroke="#333" stroke-width="2.2"/>
<text transform="translate(893.0,585.6) scale(0.840,1)" text-anchor="middle" class="tk">1</text>
<line x1="873.0" y1="612.8" x2="879.0" y2="612.8" stroke="#333" stroke-width="2.2"/>
<text transform="translate(893.0,618.4) scale(0.840,1)" text-anchor="middle" class="tk">0.75</text>
<line x1="873.0" y1="646.8" x2="879.0" y2="646.8" stroke="#333" stroke-width="2.2"/>
<text transform="translate(893.0,652.4) scale(0.840,1)" text-anchor="middle" class="tk">0.5</text>
<line x1="873.0" y1="680.8" x2="879.0" y2="680.8" stroke="#333" stroke-width="2.2"/>
<text transform="translate(893.0,686.4) scale(0.840,1)" text-anchor="middle" class="tk">0.25</text>
<line x1="873.0" y1="713.6" x2="879.0" y2="713.6" stroke="#333" stroke-width="2.2"/>
<text transform="translate(893.0,719.2) scale(0.840,1)" text-anchor="middle" class="tk">0</text>
<line x1="94.6" y1="717.3" x2="94.6" y2="723.3" stroke="#333" stroke-width="1.6"/>
<text transform="translate(94.6,738.6) scale(0.840,1)" text-anchor="middle" class="tk">0.293</text>
<line x1="108.7" y1="717.3" x2="108.7" y2="723.3" stroke="#333" stroke-width="1.6"/>
<line x1="204.4" y1="717.3" x2="204.4" y2="723.3" stroke="#333" stroke-width="1.6"/>
<text transform="translate(204.4,738.6) scale(0.840,1)" text-anchor="middle" class="tk">0.35</text>
<line x1="299.2" y1="717.3" x2="299.2" y2="723.3" stroke="#333" stroke-width="1.6"/>
<text transform="translate(299.2,738.6) scale(0.840,1)" text-anchor="middle" class="tk">0.4</text>
<line x1="394.5" y1="717.3" x2="394.5" y2="723.3" stroke="#333" stroke-width="1.6"/>
<text transform="translate(394.5,738.6) scale(0.840,1)" text-anchor="middle" class="tk">0.45</text>
<line x1="490.2" y1="717.3" x2="490.2" y2="723.3" stroke="#333" stroke-width="1.6"/>
<text transform="translate(490.2,738.6) scale(0.840,1)" text-anchor="middle" class="tk">0.5</text>
<line x1="585.9" y1="717.3" x2="585.9" y2="723.3" stroke="#333" stroke-width="1.6"/>
<text transform="translate(585.9,738.6) scale(0.840,1)" text-anchor="middle" class="tk">0.55</text>
<line x1="681.1" y1="717.3" x2="681.1" y2="723.3" stroke="#333" stroke-width="1.6"/>
<text transform="translate(681.1,738.6) scale(0.840,1)" text-anchor="middle" class="tk">0.6</text>
<line x1="776.8" y1="717.3" x2="776.8" y2="723.3" stroke="#333" stroke-width="1.6"/>
<text transform="translate(776.8,738.6) scale(0.840,1)" text-anchor="middle" class="tk">0.65</text>
<line x1="868.6" y1="717.3" x2="868.6" y2="723.3" stroke="#333" stroke-width="1.6"/>
<text transform="translate(868.6,738.6) scale(0.840,1)" text-anchor="middle" class="tk">0.699</text>
<text transform="translate(481.3,761.6) scale(0.875,1)" text-anchor="middle" class="tk">Time (s)</text>
<text transform="translate(925.0,580.0) rotate(90) scale(0.92,1)" text-anchor="middle" class="tk" y="5.6">RMS</text>
<text transform="translate(46.4,613.8) rotate(-90) scale(0.9,1)" class="tk" y="5.6">PLP Score</text>
<text transform="translate(172.0,499.2) scale(0.880,1)" text-anchor="start" class="an" fill="#454545" stroke="#454545">0.581</text>
<text transform="translate(172.0,519.0) scale(0.880,1)" text-anchor="start" class="an" fill="#454545" stroke="#454545">0.343 s</text>
<text transform="translate(172.0,538.8) scale(0.880,1)" text-anchor="start" class="an" fill="#454545" stroke="#454545">3.367 pT</text>
<text transform="translate(306.9,502.9) scale(0.880,1)" text-anchor="start" class="an" fill="#222" stroke="#222">-12.464 pT/s</text>
<text transform="translate(306.9,522.7) scale(0.880,1)" text-anchor="start" class="an" fill="#222" stroke="#222">0.379 s</text>
<text transform="translate(306.9,542.5) scale(0.880,1)" text-anchor="start" class="an" fill="#222" stroke="#222">0.027 pT</text>
<text transform="translate(666.5,475.2) scale(0.880,1)" text-anchor="start" class="an" fill="#222" stroke="#222">1.088 pT/s</text>
<text transform="translate(666.5,495.0) scale(0.880,1)" text-anchor="start" class="an" fill="#222" stroke="#222">0.637 s</text>
<text transform="translate(666.5,514.8) scale(0.880,1)" text-anchor="start" class="an" fill="#222" stroke="#222">0.527 pT</text>
<rect x="18.0" y="429.8" width="919.0" height="2.8" fill="#e01515"/>
<rect x="18.4" y="429.8" width="2.9" height="340.0" fill="#e01515"/>
<rect x="21.3" y="556.0" width="1.6" height="209.0" fill="#f2f6f6"/>
<rect x="21.0" y="765.2" width="914.0" height="2.0" fill="#f4f0f0"/>
<rect x="18.0" y="767.4" width="919.0" height="2.6" fill="#dd3c48"/>
<rect x="935.2" y="429.8" width="2.0" height="340.0" fill="#c86b6e"/>
<rect x="19.0" y="427.4" width="115.9" height="128.6" fill="#fff" stroke="#111" stroke-width="2.6"/>
<text transform="translate(67.3,510.3) scale(0.97,1)" text-anchor="middle" class="lt">C</text>
<clipPath id="clipD"><rect x="1076.5" y="438.0" width="795.0" height="275.5"/></clipPath>
<rect x="992.0" y="424.0" width="951.0" height="348.0" fill="#e1e1e1"/>
<rect x="1108.0" y="425.6" width="833.0" height="3.0" fill="#f3f7f7"/>
<rect x="1108.0" y="428.6" width="833.0" height="1.8" fill="#8e9a96"/>
<rect x="1108.0" y="430.4" width="833.0" height="5.6" fill="#efefef"/>
<rect x="1108.0" y="436.0" width="763.5" height="2.0" fill="#a9a9a9"/>
<rect x="1076.5" y="438.0" width="795.0" height="275.5" fill="#ffffff"/>
<g clip-path="url(#clipD)">
<path d="M1076.5,523.0 C1078.8,523.0 1086.1,522.9 1090.0,523.0 C1093.9,523.1 1097.0,523.5 1100.0,523.5 C1103.0,523.5 1105.3,523.8 1107.9,523.3 C1110.5,522.8 1113.5,522.6 1115.5,520.7 C1117.5,518.8 1118.3,515.4 1120.0,512.0 C1121.7,508.6 1124.0,504.3 1125.5,500.6 C1127.0,496.9 1127.7,493.4 1129.0,490.0 C1130.3,486.6 1131.8,483.2 1133.1,480.4 C1134.4,477.6 1135.8,474.8 1137.0,473.0 C1138.2,471.2 1139.0,469.3 1140.2,469.8 C1141.4,470.3 1142.7,473.0 1144.0,476.0 C1145.3,479.0 1146.9,484.0 1148.2,488.0 C1149.5,492.0 1150.7,495.8 1152.0,500.0 C1153.3,504.2 1154.3,508.5 1155.8,513.2 C1157.3,517.9 1159.3,523.0 1161.0,528.0 C1162.7,533.0 1164.6,538.7 1165.9,543.4 C1167.2,548.1 1168.0,550.6 1169.0,556.0 C1170.0,561.4 1170.7,567.0 1171.7,576.0 C1172.7,585.0 1174.0,599.3 1175.0,610.0 C1176.0,620.7 1177.0,630.0 1178.0,640.0 C1179.0,650.0 1180.0,660.8 1181.0,670.0 C1182.0,679.2 1183.1,688.8 1184.0,695.0 C1184.9,701.2 1185.7,707.8 1186.5,707.0 C1187.3,706.2 1188.2,698.7 1189.0,690.0 C1189.8,681.3 1190.4,668.3 1191.0,655.0 C1191.6,641.7 1192.0,627.2 1192.5,610.0 C1193.0,592.8 1193.2,569.5 1193.7,552.0 C1194.2,534.5 1194.9,517.0 1195.5,505.0 C1196.1,493.0 1196.9,487.8 1197.4,480.0 C1197.9,472.2 1198.2,464.2 1198.6,458.0 C1199.0,451.8 1199.3,446.2 1200.0,443.0 C1200.7,439.8 1202.0,439.7 1203.0,439.0 C1204.0,438.3 1204.2,438.7 1206.2,438.6 C1208.2,438.5 1212.1,438.6 1215.0,438.6 C1217.9,438.6 1221.4,437.5 1223.6,438.6 C1225.8,439.7 1226.7,442.6 1228.0,445.0 C1229.3,447.4 1230.0,449.3 1231.4,452.7 C1232.8,456.1 1235.1,460.8 1236.5,465.3 C1237.9,469.9 1238.8,475.4 1240.0,480.0 C1241.2,484.6 1242.5,488.3 1244.0,493.0 C1245.5,497.7 1247.3,503.8 1249.0,508.0 C1250.7,512.2 1252.4,515.2 1254.1,518.2 C1255.8,521.2 1257.3,523.5 1259.0,526.0 C1260.7,528.5 1262.2,531.1 1264.2,533.4 C1266.2,535.7 1268.5,537.9 1271.0,540.0 C1273.5,542.1 1276.6,543.3 1279.3,546.0 C1282.0,548.7 1284.5,552.6 1287.0,556.0 C1289.5,559.4 1292.2,563.3 1294.4,566.1 C1296.6,568.9 1297.9,570.5 1300.0,573.0 C1302.1,575.5 1304.8,578.5 1307.0,581.2 C1309.2,583.9 1310.9,586.5 1313.0,589.0 C1315.1,591.5 1317.4,594.1 1319.6,596.4 C1321.8,598.7 1323.9,600.9 1326.0,603.0 C1328.1,605.1 1329.9,606.8 1332.2,609.0 C1334.5,611.2 1337.5,613.9 1340.0,616.0 C1342.5,618.1 1345.4,621.3 1347.4,621.6 C1349.4,621.9 1350.3,619.7 1352.0,618.0 C1353.7,616.3 1355.7,614.5 1357.4,611.5 C1359.1,608.5 1360.5,602.9 1362.0,600.0 C1363.5,597.1 1365.0,593.9 1366.3,593.9 C1367.6,593.9 1369.0,597.9 1370.0,600.0 C1371.0,602.1 1371.8,602.8 1372.6,606.5 C1373.4,610.2 1374.2,615.7 1375.0,622.0 C1375.8,628.3 1376.6,637.1 1377.6,644.3 C1378.6,651.5 1379.7,658.7 1381.0,665.0 C1382.3,671.3 1383.9,677.8 1385.2,682.0 C1386.5,686.2 1387.8,688.3 1389.0,690.0 C1390.2,691.7 1391.5,692.2 1392.7,692.2 C1393.9,692.2 1395.0,690.4 1396.0,690.0 C1397.0,689.6 1398.0,689.3 1399.0,689.6 C1400.0,689.9 1401.0,690.7 1402.0,692.0 C1403.0,693.3 1404.3,695.4 1405.3,697.2 C1406.3,699.0 1407.2,701.3 1408.0,703.0 C1408.8,704.7 1409.6,708.1 1410.4,707.3 C1411.2,706.5 1412.2,702.2 1413.0,698.0 C1413.8,693.8 1414.4,688.0 1415.4,682.0 C1416.4,676.0 1417.7,668.3 1419.0,662.0 C1420.3,655.7 1421.5,650.0 1423.0,644.3 C1424.5,638.6 1426.3,632.6 1428.0,628.0 C1429.7,623.4 1430.5,618.8 1433.0,616.5 C1435.5,614.2 1438.7,614.6 1443.2,614.0 C1447.7,613.4 1455.0,613.0 1460.0,612.8 C1465.0,612.6 1469.5,610.6 1473.0,612.8 C1476.5,615.0 1478.5,621.9 1480.8,625.8 C1483.1,629.7 1484.8,632.1 1487.0,636.0 C1489.2,639.9 1491.7,644.7 1493.9,649.2 C1496.1,653.7 1497.8,657.8 1500.0,663.0 C1502.2,668.2 1504.7,675.2 1506.9,680.5 C1509.1,685.8 1511.0,690.5 1513.0,695.0 C1515.0,699.5 1517.1,706.6 1518.6,707.8 C1520.1,709.0 1520.9,704.4 1522.0,702.0 C1523.1,699.6 1524.1,697.5 1525.1,693.5 C1526.1,689.5 1527.1,681.9 1528.0,678.0 C1528.9,674.1 1529.1,673.0 1530.3,670.0 C1531.5,667.0 1533.2,662.6 1535.0,660.0 C1536.8,657.4 1538.8,654.9 1540.8,654.4 C1542.8,653.9 1544.8,655.9 1547.0,657.0 C1549.2,658.1 1551.8,661.0 1553.8,661.0 C1555.8,661.0 1557.3,659.0 1559.0,657.0 C1560.7,655.0 1562.4,653.7 1564.2,649.2 C1566.0,644.7 1567.8,637.0 1570.0,630.0 C1572.2,623.0 1575.2,613.0 1577.2,607.5 C1579.2,602.0 1580.3,599.6 1582.0,597.0 C1583.7,594.4 1584.9,593.3 1587.6,592.0 C1590.3,590.7 1595.4,591.0 1598.0,589.3 C1600.6,587.6 1601.2,585.0 1603.0,582.0 C1604.8,579.0 1606.7,575.3 1608.5,571.0 C1610.3,566.7 1611.8,561.6 1614.0,556.0 C1616.2,550.4 1618.8,542.7 1621.5,537.2 C1624.2,531.7 1626.5,528.2 1630.0,523.0 C1633.5,517.8 1638.1,510.5 1642.3,506.0 C1646.5,501.5 1650.7,499.1 1655.0,496.0 C1659.3,492.9 1663.9,490.2 1668.4,487.7 C1672.9,485.2 1677.7,483.2 1682.0,481.0 C1686.3,478.8 1690.1,476.5 1694.4,474.7 C1698.7,472.9 1703.7,471.1 1708.0,470.0 C1712.3,468.9 1716.3,468.4 1720.5,468.2 C1724.7,467.9 1728.7,468.3 1733.0,468.5 C1737.3,468.7 1742.0,468.9 1746.5,469.5 C1751.0,470.1 1755.7,471.1 1760.0,472.0 C1764.3,472.9 1768.3,473.9 1772.6,474.7 C1776.9,475.5 1781.7,475.9 1786.0,477.0 C1790.3,478.1 1794.6,479.4 1798.6,481.2 C1802.6,483.0 1806.5,485.2 1810.0,488.0 C1813.5,490.8 1816.8,494.4 1819.5,498.1 C1822.2,501.8 1823.8,505.6 1826.0,510.0 C1828.2,514.4 1830.3,519.0 1832.5,524.2 C1834.7,529.4 1836.8,534.5 1839.0,541.0 C1841.2,547.5 1843.5,555.1 1845.5,563.3 C1847.5,571.5 1849.2,580.9 1851.0,590.0 C1852.8,599.1 1854.6,608.8 1856.0,618.0 C1857.4,627.2 1858.4,636.3 1859.5,645.0 C1860.6,653.7 1861.7,662.8 1862.5,670.0 C1863.3,677.2 1863.8,682.8 1864.5,688.0 C1865.2,693.2 1865.8,702.6 1866.4,701.3 C1867.0,700.0 1867.3,690.0 1868.0,680.0 C1868.7,670.0 1869.7,648.3 1870.3,641.4 C1870.9,634.5 1871.0,639.7 1871.6,638.8 C1872.2,637.9 1873.6,636.5 1874.0,636.0 L1874.0,711.4 L1076.5,711.4 Z" fill="#fbd6c9" stroke="none"/>
<path d="M1076.5,523.0 C1078.8,523.0 1086.1,522.9 1090.0,523.0 C1093.9,523.1 1097.0,523.5 1100.0,523.5 C1103.0,523.5 1105.3,523.8 1107.9,523.3 C1110.5,522.8 1113.5,522.6 1115.5,520.7 C1117.5,518.8 1118.3,515.4 1120.0,512.0 C1121.7,508.6 1124.0,504.3 1125.5,500.6 C1127.0,496.9 1127.7,493.4 1129.0,490.0 C1130.3,486.6 1131.8,483.2 1133.1,480.4 C1134.4,477.6 1135.8,474.8 1137.0,473.0 C1138.2,471.2 1139.0,469.3 1140.2,469.8 C1141.4,470.3 1142.7,473.0 1144.0,476.0 C1145.3,479.0 1146.9,484.0 1148.2,488.0 C1149.5,492.0 1150.7,495.8 1152.0,500.0 C1153.3,504.2 1154.3,508.5 1155.8,513.2 C1157.3,517.9 1159.3,523.0 1161.0,528.0 C1162.7,533.0 1164.6,538.7 1165.9,543.4 C1167.2,548.1 1168.0,550.6 1169.0,556.0 C1170.0,561.4 1170.7,567.0 1171.7,576.0 C1172.7,585.0 1174.0,599.3 1175.0,610.0 C1176.0,620.7 1177.0,630.0 1178.0,640.0 C1179.0,650.0 1180.0,660.8 1181.0,670.0 C1182.0,679.2 1183.1,688.8 1184.0,695.0 C1184.9,701.2 1185.7,707.8 1186.5,707.0 C1187.3,706.2 1188.2,698.7 1189.0,690.0 C1189.8,681.3 1190.4,668.3 1191.0,655.0 C1191.6,641.7 1192.0,627.2 1192.5,610.0 C1193.0,592.8 1193.2,569.5 1193.7,552.0 C1194.2,534.5 1194.9,517.0 1195.5,505.0 C1196.1,493.0 1196.9,487.8 1197.4,480.0 C1197.9,472.2 1198.2,464.2 1198.6,458.0 C1199.0,451.8 1199.3,446.2 1200.0,443.0 C1200.7,439.8 1202.0,439.7 1203.0,439.0 C1204.0,438.3 1204.2,438.7 1206.2,438.6 C1208.2,438.5 1212.1,438.6 1215.0,438.6 C1217.9,438.6 1221.4,437.5 1223.6,438.6 C1225.8,439.7 1226.7,442.6 1228.0,445.0 C1229.3,447.4 1230.0,449.3 1231.4,452.7 C1232.8,456.1 1235.1,460.8 1236.5,465.3 C1237.9,469.9 1238.8,475.4 1240.0,480.0 C1241.2,484.6 1242.5,488.3 1244.0,493.0 C1245.5,497.7 1247.3,503.8 1249.0,508.0 C1250.7,512.2 1252.4,515.2 1254.1,518.2 C1255.8,521.2 1257.3,523.5 1259.0,526.0 C1260.7,528.5 1262.2,531.1 1264.2,533.4 C1266.2,535.7 1268.5,537.9 1271.0,540.0 C1273.5,542.1 1276.6,543.3 1279.3,546.0 C1282.0,548.7 1284.5,552.6 1287.0,556.0 C1289.5,559.4 1292.2,563.3 1294.4,566.1 C1296.6,568.9 1297.9,570.5 1300.0,573.0 C1302.1,575.5 1304.8,578.5 1307.0,581.2 C1309.2,583.9 1310.9,586.5 1313.0,589.0 C1315.1,591.5 1317.4,594.1 1319.6,596.4 C1321.8,598.7 1323.9,600.9 1326.0,603.0 C1328.1,605.1 1329.9,606.8 1332.2,609.0 C1334.5,611.2 1337.5,613.9 1340.0,616.0 C1342.5,618.1 1345.4,621.3 1347.4,621.6 C1349.4,621.9 1350.3,619.7 1352.0,618.0 C1353.7,616.3 1355.7,614.5 1357.4,611.5 C1359.1,608.5 1360.5,602.9 1362.0,600.0 C1363.5,597.1 1365.0,593.9 1366.3,593.9 C1367.6,593.9 1369.0,597.9 1370.0,600.0 C1371.0,602.1 1371.8,602.8 1372.6,606.5 C1373.4,610.2 1374.2,615.7 1375.0,622.0 C1375.8,628.3 1376.6,637.1 1377.6,644.3 C1378.6,651.5 1379.7,658.7 1381.0,665.0 C1382.3,671.3 1383.9,677.8 1385.2,682.0 C1386.5,686.2 1387.8,688.3 1389.0,690.0 C1390.2,691.7 1391.5,692.2 1392.7,692.2 C1393.9,692.2 1395.0,690.4 1396.0,690.0 C1397.0,689.6 1398.0,689.3 1399.0,689.6 C1400.0,689.9 1401.0,690.7 1402.0,692.0 C1403.0,693.3 1404.3,695.4 1405.3,697.2 C1406.3,699.0 1407.2,701.3 1408.0,703.0 C1408.8,704.7 1409.6,708.1 1410.4,707.3 C1411.2,706.5 1412.2,702.2 1413.0,698.0 C1413.8,693.8 1414.4,688.0 1415.4,682.0 C1416.4,676.0 1417.7,668.3 1419.0,662.0 C1420.3,655.7 1421.5,650.0 1423.0,644.3 C1424.5,638.6 1426.3,632.6 1428.0,628.0 C1429.7,623.4 1430.5,618.8 1433.0,616.5 C1435.5,614.2 1438.7,614.6 1443.2,614.0 C1447.7,613.4 1455.0,613.0 1460.0,612.8 C1465.0,612.6 1469.5,610.6 1473.0,612.8 C1476.5,615.0 1478.5,621.9 1480.8,625.8 C1483.1,629.7 1484.8,632.1 1487.0,636.0 C1489.2,639.9 1491.7,644.7 1493.9,649.2 C1496.1,653.7 1497.8,657.8 1500.0,663.0 C1502.2,668.2 1504.7,675.2 1506.9,680.5 C1509.1,685.8 1511.0,690.5 1513.0,695.0 C1515.0,699.5 1517.1,706.6 1518.6,707.8 C1520.1,709.0 1520.9,704.4 1522.0,702.0 C1523.1,699.6 1524.1,697.5 1525.1,693.5 C1526.1,689.5 1527.1,681.9 1528.0,678.0 C1528.9,674.1 1529.1,673.0 1530.3,670.0 C1531.5,667.0 1533.2,662.6 1535.0,660.0 C1536.8,657.4 1538.8,654.9 1540.8,654.4 C1542.8,653.9 1544.8,655.9 1547.0,657.0 C1549.2,658.1 1551.8,661.0 1553.8,661.0 C1555.8,661.0 1557.3,659.0 1559.0,657.0 C1560.7,655.0 1562.4,653.7 1564.2,649.2 C1566.0,644.7 1567.8,637.0 1570.0,630.0 C1572.2,623.0 1575.2,613.0 1577.2,607.5 C1579.2,602.0 1580.3,599.6 1582.0,597.0 C1583.7,594.4 1584.9,593.3 1587.6,592.0 C1590.3,590.7 1595.4,591.0 1598.0,589.3 C1600.6,587.6 1601.2,585.0 1603.0,582.0 C1604.8,579.0 1606.7,575.3 1608.5,571.0 C1610.3,566.7 1611.8,561.6 1614.0,556.0 C1616.2,550.4 1618.8,542.7 1621.5,537.2 C1624.2,531.7 1626.5,528.2 1630.0,523.0 C1633.5,517.8 1638.1,510.5 1642.3,506.0 C1646.5,501.5 1650.7,499.1 1655.0,496.0 C1659.3,492.9 1663.9,490.2 1668.4,487.7 C1672.9,485.2 1677.7,483.2 1682.0,481.0 C1686.3,478.8 1690.1,476.5 1694.4,474.7 C1698.7,472.9 1703.7,471.1 1708.0,470.0 C1712.3,468.9 1716.3,468.4 1720.5,468.2 C1724.7,467.9 1728.7,468.3 1733.0,468.5 C1737.3,468.7 1742.0,468.9 1746.5,469.5 C1751.0,470.1 1755.7,471.1 1760.0,472.0 C1764.3,472.9 1768.3,473.9 1772.6,474.7 C1776.9,475.5 1781.7,475.9 1786.0,477.0 C1790.3,478.1 1794.6,479.4 1798.6,481.2 C1802.6,483.0 1806.5,485.2 1810.0,488.0 C1813.5,490.8 1816.8,494.4 1819.5,498.1 C1822.2,501.8 1823.8,505.6 1826.0,510.0 C1828.2,514.4 1830.3,519.0 1832.5,524.2 C1834.7,529.4 1836.8,534.5 1839.0,541.0 C1841.2,547.5 1843.5,555.1 1845.5,563.3 C1847.5,571.5 1849.2,580.9 1851.0,590.0 C1852.8,599.1 1854.6,608.8 1856.0,618.0 C1857.4,627.2 1858.4,636.3 1859.5,645.0 C1860.6,653.7 1861.7,662.8 1862.5,670.0 C1863.3,677.2 1863.8,682.8 1864.5,688.0 C1865.2,693.2 1865.8,702.6 1866.4,701.3 C1867.0,700.0 1867.3,690.0 1868.0,680.0 C1868.7,670.0 1869.7,648.3 1870.3,641.4 C1870.9,634.5 1871.0,639.7 1871.6,638.8 C1872.2,637.9 1873.6,636.5 1874.0,636.0" fill="none" stroke="#e3485a" stroke-width="1.9"/>
<path d="M1076.4,707.3 C1077.7,704.4 1081.3,695.5 1084.0,690.0 C1086.7,684.5 1090.1,679.2 1092.8,674.5 C1095.5,669.8 1097.5,666.2 1100.0,662.0 C1102.5,657.8 1105.4,652.3 1107.9,649.3 C1110.4,646.3 1112.5,645.3 1115.0,644.0 C1117.5,642.7 1120.0,642.9 1123.0,641.7 C1126.0,640.5 1130.6,640.7 1133.1,636.7 C1135.6,632.8 1136.3,625.1 1138.0,618.0 C1139.7,610.9 1141.5,603.2 1143.2,593.9 C1144.9,584.6 1146.3,572.5 1148.0,562.0 C1149.7,551.5 1151.6,540.3 1153.3,530.8 C1155.0,521.3 1156.3,512.1 1158.0,505.0 C1159.7,497.9 1161.9,491.8 1163.4,488.0 C1164.9,484.2 1165.8,483.3 1167.0,482.0 C1168.2,480.7 1169.7,479.9 1170.9,480.4 C1172.2,480.9 1173.2,482.5 1174.5,485.0 C1175.8,487.5 1177.2,491.3 1178.5,495.5 C1179.8,499.7 1180.8,504.1 1182.0,510.0 C1183.2,515.9 1184.8,524.5 1186.0,530.8 C1187.2,537.1 1188.2,543.8 1189.5,548.0 C1190.8,552.2 1192.3,559.0 1193.6,556.0 C1194.8,553.0 1195.9,541.0 1197.0,530.0 C1198.1,519.0 1199.0,502.5 1200.0,490.0 C1201.0,477.5 1202.2,463.7 1203.0,455.0 C1203.8,446.3 1204.3,443.8 1205.0,438.0 C1205.7,432.2 1194.0,423.0 1207.0,420.0 C1220.0,417.0 1270.0,418.0 1283.0,420.0 C1296.0,422.0 1284.3,428.7 1285.0,432.0 C1285.7,435.3 1285.7,436.0 1286.9,440.0 C1288.1,444.0 1289.9,449.3 1292.0,456.0 C1294.1,462.7 1297.3,472.6 1299.5,480.4 C1301.7,488.2 1302.9,494.6 1305.0,503.0 C1307.1,511.4 1309.9,521.0 1312.1,530.8 C1314.3,540.6 1315.9,551.5 1318.0,562.0 C1320.1,572.5 1322.5,584.2 1324.7,593.9 C1326.9,603.6 1328.9,611.6 1331.0,620.0 C1333.1,628.4 1335.3,638.0 1337.3,644.3 C1339.3,650.6 1340.9,653.8 1343.0,658.0 C1345.1,662.2 1347.7,666.0 1349.9,669.5 C1352.1,673.0 1353.9,676.1 1356.0,679.0 C1358.1,681.9 1360.5,685.0 1362.5,687.1 C1364.5,689.2 1365.9,690.2 1368.0,691.5 C1370.1,692.8 1371.4,694.2 1375.1,694.7 C1378.8,695.2 1383.7,694.5 1390.0,694.5 C1396.3,694.5 1404.9,695.1 1412.9,694.7 C1420.9,694.3 1430.2,693.3 1438.1,692.2 C1445.9,691.1 1449.8,689.2 1460.0,688.3 C1470.2,687.4 1488.2,687.6 1499.0,687.0 C1509.8,686.4 1516.4,685.7 1525.1,684.4 C1533.8,683.1 1542.5,681.6 1551.2,679.2 C1559.9,676.8 1568.5,673.7 1577.2,670.0 C1585.9,666.3 1595.8,661.3 1603.3,657.0 C1610.8,652.7 1615.5,648.8 1622.0,644.0 C1628.5,639.2 1635.6,633.2 1642.3,628.4 C1649.0,623.6 1655.5,619.4 1662.0,615.0 C1668.5,610.6 1675.1,606.1 1681.4,602.3 C1687.7,598.5 1693.5,595.0 1700.0,592.0 C1706.5,589.0 1715.0,584.8 1720.5,584.1 C1726.0,583.4 1728.7,586.3 1733.0,588.0 C1737.3,589.7 1741.2,591.0 1746.5,594.5 C1751.8,598.0 1758.5,603.4 1765.0,609.0 C1771.5,614.6 1778.9,621.4 1785.6,628.4 C1792.3,635.4 1798.5,643.2 1805.0,651.0 C1811.5,658.8 1819.2,669.3 1824.7,675.3 C1830.2,681.3 1833.7,683.5 1838.0,687.0 C1842.3,690.5 1847.0,693.9 1850.7,696.1 C1854.4,698.3 1856.7,698.7 1860.0,700.0 C1863.3,701.3 1868.0,703.1 1870.3,703.9 C1872.6,704.6 1873.4,704.4 1874.0,704.5" fill="none" stroke="#4e4646" stroke-width="2" stroke-dasharray="2 2.2"/>
<path d="M1076.4,709.8 C1078.2,708.7 1083.4,705.1 1087.0,703.0 C1090.6,700.9 1094.6,698.7 1097.8,697.2 C1101.0,695.7 1103.0,694.8 1106.0,694.0 C1109.0,693.2 1112.2,692.1 1115.5,692.2 C1118.8,692.3 1122.6,693.9 1125.5,694.7 C1128.4,695.5 1130.5,696.2 1133.0,697.0 C1135.5,697.8 1138.7,702.5 1140.7,699.7 C1142.7,696.9 1143.3,687.1 1145.0,680.0 C1146.7,672.9 1149.0,664.1 1150.7,656.9 C1152.4,649.7 1153.3,643.3 1155.0,637.0 C1156.7,630.7 1159.0,624.8 1160.8,619.0 C1162.6,613.2 1164.3,607.5 1166.0,602.0 C1167.7,596.5 1169.2,592.0 1170.9,586.3 C1172.6,580.6 1174.3,573.9 1176.0,568.0 C1177.7,562.1 1179.3,556.4 1181.0,551.0 C1182.7,545.6 1184.8,535.2 1186.0,535.9 C1187.2,536.6 1187.7,547.5 1188.5,555.0 C1189.3,562.5 1190.3,569.5 1191.1,581.2 C1191.9,592.9 1192.7,610.3 1193.5,625.0 C1194.3,639.7 1195.3,657.8 1196.1,669.5 C1196.9,681.2 1197.7,688.3 1198.5,695.0 C1199.3,701.7 1199.3,707.3 1201.2,709.8 C1203.1,712.3 1206.7,710.0 1210.0,710.0 C1213.3,710.0 1218.6,711.0 1221.3,709.8 C1224.0,708.6 1224.3,705.5 1226.0,703.0 C1227.7,700.5 1229.7,699.0 1231.4,694.7 C1233.1,690.4 1234.3,683.3 1236.0,677.0 C1237.7,670.7 1239.8,663.6 1241.5,656.9 C1243.2,650.2 1244.3,642.9 1246.0,637.0 C1247.7,631.1 1249.6,626.1 1251.6,621.6 C1253.6,617.1 1255.5,613.4 1258.0,610.0 C1260.5,606.6 1263.9,603.7 1266.7,601.4 C1269.5,599.1 1272.1,597.2 1275.0,596.0 C1277.9,594.8 1281.5,593.6 1284.3,593.9 C1287.1,594.2 1289.5,596.3 1292.0,598.0 C1294.5,599.7 1297.3,601.9 1299.5,603.9 C1301.7,605.9 1302.9,607.5 1305.0,610.0 C1307.1,612.5 1309.6,615.8 1312.1,619.0 C1314.6,622.2 1317.5,625.6 1320.0,629.0 C1322.5,632.4 1324.7,635.7 1327.2,639.2 C1329.7,642.7 1332.0,646.2 1335.0,650.0 C1338.0,653.8 1341.9,658.2 1344.9,661.9 C1347.9,665.6 1350.1,668.6 1353.0,672.0 C1355.9,675.4 1359.7,679.2 1362.5,682.0 C1365.3,684.8 1367.5,686.9 1370.0,689.0 C1372.5,691.1 1374.6,693.4 1377.6,694.7 C1380.6,696.0 1384.2,696.6 1388.0,697.0 C1391.8,697.4 1392.0,697.2 1400.3,697.2 C1408.6,697.2 1428.1,697.2 1438.1,697.2 C1448.0,697.2 1452.0,698.0 1460.0,697.4 C1468.0,696.8 1477.3,695.2 1486.0,693.5 C1494.7,691.8 1504.8,688.4 1512.1,687.0 C1519.4,685.6 1523.5,685.4 1530.0,685.0 C1536.5,684.6 1539.0,684.5 1551.2,684.4 C1563.4,684.3 1589.3,683.6 1603.3,684.4 C1617.3,685.2 1624.2,687.5 1635.0,689.0 C1645.8,690.5 1654.2,692.1 1668.4,693.5 C1682.7,694.9 1703.1,696.5 1720.5,697.4 C1737.9,698.3 1755.2,698.1 1772.6,698.7 C1790.0,699.4 1808.4,700.2 1824.7,701.3 C1841.0,702.4 1862.1,704.5 1870.3,705.2 C1878.5,705.9 1873.4,705.5 1874.0,705.5" fill="none" stroke="#4ee812" stroke-width="2.2"/>
<path d="M1076.4,708.5 C1077.5,706.9 1080.7,702.1 1083.0,699.0 C1085.3,695.9 1087.7,692.8 1090.2,689.6 C1092.7,686.4 1095.5,682.9 1098.0,680.0 C1100.5,677.1 1102.9,674.3 1105.4,672.0 C1107.9,669.7 1110.5,667.7 1113.0,666.0 C1115.5,664.3 1118.2,663.6 1120.5,661.9 C1122.8,660.2 1124.9,658.1 1127.0,656.0 C1129.1,653.9 1131.3,652.6 1133.1,649.3 C1134.9,646.0 1136.3,641.0 1138.0,636.0 C1139.7,631.0 1141.5,624.8 1143.2,619.0 C1144.9,613.2 1146.3,606.5 1148.0,601.0 C1149.7,595.5 1151.8,590.3 1153.3,586.3 C1154.8,582.3 1155.8,579.1 1157.0,577.0 C1158.2,574.9 1159.5,573.9 1160.8,573.7 C1162.0,573.5 1163.2,574.3 1164.5,576.0 C1165.8,577.7 1167.2,580.1 1168.4,583.8 C1169.7,587.5 1170.7,592.1 1172.0,598.0 C1173.3,603.9 1174.8,612.0 1176.0,619.0 C1177.2,626.0 1178.0,631.6 1179.0,640.0 C1180.0,648.4 1181.5,661.2 1182.3,669.5 C1183.1,677.8 1183.4,683.7 1184.0,690.0 C1184.6,696.3 1185.3,707.3 1186.0,707.3 C1186.7,707.3 1187.4,696.3 1188.0,690.0 C1188.6,683.7 1189.0,679.5 1189.8,669.5 C1190.6,659.5 1192.0,642.6 1193.0,630.0 C1194.0,617.4 1194.9,605.6 1196.1,593.9 C1197.3,582.2 1198.7,570.5 1200.0,560.0 C1201.3,549.5 1202.4,539.1 1203.7,530.8 C1205.0,522.5 1206.3,516.3 1208.0,510.0 C1209.7,503.7 1212.1,498.0 1213.8,493.0 C1215.5,488.0 1216.3,484.2 1218.0,480.0 C1219.7,475.8 1222.2,471.0 1223.9,467.8 C1225.6,464.6 1226.8,462.5 1228.0,461.0 C1229.2,459.5 1230.1,458.2 1231.4,459.0 C1232.7,459.8 1234.3,463.3 1236.0,466.0 C1237.7,468.7 1239.8,472.4 1241.5,475.4 C1243.2,478.4 1244.3,481.1 1246.0,484.0 C1247.7,486.9 1249.6,490.3 1251.6,493.0 C1253.6,495.7 1255.9,497.9 1258.0,500.0 C1260.1,502.1 1262.2,503.8 1264.2,505.6 C1266.2,507.4 1267.9,508.5 1270.0,511.0 C1272.1,513.5 1274.8,517.2 1276.8,520.7 C1278.8,524.2 1280.3,527.8 1282.0,532.0 C1283.7,536.2 1285.2,540.8 1286.9,546.0 C1288.6,551.2 1290.3,557.1 1292.0,563.0 C1293.7,568.9 1295.2,575.0 1297.0,581.2 C1298.8,587.4 1300.9,593.7 1303.0,600.0 C1305.1,606.3 1307.4,613.0 1309.6,619.0 C1311.8,625.0 1313.9,630.5 1316.0,636.0 C1318.1,641.5 1320.2,647.1 1322.2,651.8 C1324.2,656.5 1325.9,660.2 1328.0,664.0 C1330.1,667.8 1332.6,671.3 1334.8,674.5 C1337.0,677.7 1338.9,680.5 1341.0,683.0 C1343.1,685.5 1345.1,687.8 1347.4,689.6 C1349.7,691.4 1352.5,692.7 1355.0,694.0 C1357.5,695.3 1360.3,696.0 1362.5,697.2 C1364.7,698.4 1365.9,699.7 1368.0,701.0 C1370.1,702.3 1372.9,703.8 1375.1,704.8 C1377.3,705.8 1378.9,706.4 1381.0,707.0 C1383.1,707.6 1384.5,708.2 1387.7,708.5 C1390.9,708.8 1395.8,708.5 1400.0,708.5 C1404.2,708.5 1408.7,708.9 1412.9,708.5 C1417.1,708.1 1420.8,706.8 1425.0,706.0 C1429.2,705.2 1432.3,704.3 1438.1,703.5 C1443.9,702.7 1452.0,701.0 1460.0,701.3 C1468.0,701.6 1476.5,703.9 1486.0,705.2 C1495.5,706.5 1509.5,709.1 1517.3,709.1 C1525.1,709.1 1527.5,706.0 1533.0,705.2 C1538.5,704.4 1544.8,704.7 1550.0,704.5 C1555.2,704.3 1560.0,705.1 1564.2,703.9 C1568.4,702.6 1571.5,699.2 1575.0,697.0 C1578.5,694.8 1581.3,692.6 1585.0,690.9 C1588.7,689.2 1593.1,688.3 1597.0,687.0 C1600.9,685.7 1603.8,686.6 1608.5,683.1 C1613.2,679.6 1619.4,671.6 1625.0,666.0 C1630.6,660.4 1636.1,654.9 1642.3,649.2 C1648.5,643.5 1655.5,637.6 1662.0,632.0 C1668.5,626.4 1675.1,619.9 1681.4,615.4 C1687.7,610.9 1693.5,607.6 1700.0,605.0 C1706.5,602.4 1715.0,600.2 1720.5,599.7 C1726.0,599.2 1728.7,600.7 1733.0,602.0 C1737.3,603.3 1741.2,604.3 1746.5,607.5 C1751.8,610.7 1758.5,615.8 1765.0,621.0 C1771.5,626.2 1778.9,632.5 1785.6,638.8 C1792.3,645.1 1798.5,652.0 1805.0,659.0 C1811.5,666.0 1819.7,675.2 1824.7,680.5 C1829.7,685.8 1831.5,687.5 1835.0,691.0 C1838.5,694.5 1841.7,698.6 1845.5,701.3 C1849.3,704.0 1853.9,705.5 1858.0,707.0 C1862.1,708.5 1867.6,709.7 1870.3,710.4 C1873.0,711.1 1873.4,710.9 1874.0,711.0" fill="none" stroke="#1f8bef" stroke-width="5" stroke-linejoin="round" stroke-linecap="round"/>
<line x1="1231.0" y1="438.0" x2="1231.0" y2="711.4" stroke="#151010" stroke-width="2.6"/>
<line x1="1371.8" y1="438.0" x2="1371.8" y2="711.4" stroke="#4d7be3" stroke-width="1.5"/>
<line x1="1554.3" y1="438.0" x2="1554.3" y2="711.4" stroke="#8fe85f" stroke-width="1.8"/>
</g>
<line x1="1076.0" y1="438.0" x2="1076.0" y2="712.4" stroke="#8c8c8c" stroke-width="1"/>
<line x1="1068.0" y1="711.5" x2="1074.5" y2="711.5" stroke="#333" stroke-width="2"/>
<text transform="translate(1066.0,717.1) scale(0.840,1)" text-anchor="end" class="tk">0</text>
<line x1="1068.0" y1="658.0" x2="1074.5" y2="658.0" stroke="#333" stroke-width="2"/>
<text transform="translate(1066.0,663.6) scale(0.840,1)" text-anchor="end" class="tk">0.2</text>
<line x1="1068.0" y1="603.5" x2="1074.5" y2="603.5" stroke="#333" stroke-width="2"/>
<text transform="translate(1066.0,609.1) scale(0.840,1)" text-anchor="end" class="tk">0.4</text>
<line x1="1068.0" y1="549.5" x2="1074.5" y2="549.5" stroke="#333" stroke-width="2"/>
<text transform="translate(1066.0,555.1) scale(0.840,1)" text-anchor="end" class="tk">0.6</text>
<line x1="1874.5" y1="438.8" x2="1880.5" y2="438.8" stroke="#333" stroke-width="2.2"/>
<text transform="translate(1895.0,444.4) scale(0.840,1)" text-anchor="middle" class="tk">2</text>
<line x1="1874.5" y1="473.4" x2="1880.5" y2="473.4" stroke="#333" stroke-width="2.2"/>
<text transform="translate(1895.0,479.0) scale(0.840,1)" text-anchor="middle" class="tk">1.75</text>
<line x1="1874.5" y1="508.6" x2="1880.5" y2="508.6" stroke="#333" stroke-width="2.2"/>
<text transform="translate(1895.0,514.2) scale(0.840,1)" text-anchor="middle" class="tk">1.5</text>
<line x1="1874.5" y1="542.4" x2="1880.5" y2="542.4" stroke="#333" stroke-width="2.2"/>
<text transform="translate(1895.0,548.0) scale(0.840,1)" text-anchor="middle" class="tk">1.25</text>
<line x1="1874.5" y1="576.3" x2="1880.5" y2="576.3" stroke="#333" stroke-width="2.2"/>
<text transform="translate(1895.0,581.9) scale(0.840,1)" text-anchor="middle" class="tk">1</text>
<line x1="1874.5" y1="610.2" x2="1880.5" y2="610.2" stroke="#333" stroke-width="2.2"/>
<text transform="translate(1895.0,615.8) scale(0.840,1)" text-anchor="middle" class="tk">0.75</text>
<line x1="1874.5" y1="644.5" x2="1880.5" y2="644.5" stroke="#333" stroke-width="2.2"/>
<text transform="translate(1895.0,650.1) scale(0.840,1)" text-anchor="middle" class="tk">0.5</text>
<line x1="1874.5" y1="679.2" x2="1880.5" y2="679.2" stroke="#333" stroke-width="2.2"/>
<text transform="translate(1895.0,684.8) scale(0.840,1)" text-anchor="middle" class="tk">0.25</text>
<line x1="1874.5" y1="713.0" x2="1880.5" y2="713.0" stroke="#333" stroke-width="2.2"/>
<text transform="translate(1895.0,718.6) scale(0.840,1)" text-anchor="middle" class="tk">0</text>
<line x1="1077.3" y1="715.4" x2="1077.3" y2="721.4" stroke="#333" stroke-width="1.6"/>
<text transform="translate(1077.3,738.0) scale(0.840,1)" text-anchor="middle" class="tk">0.323</text>
<line x1="1130.7" y1="715.4" x2="1130.7" y2="721.4" stroke="#333" stroke-width="1.6"/>
<text transform="translate(1130.7,738.0) scale(0.840,1)" text-anchor="middle" class="tk">0.35</text>
<line x1="1227.5" y1="715.4" x2="1227.5" y2="721.4" stroke="#333" stroke-width="1.6"/>
<text transform="translate(1227.5,738.0) scale(0.840,1)" text-anchor="middle" class="tk">0.4</text>
<line x1="1323.8" y1="715.4" x2="1323.8" y2="721.4" stroke="#333" stroke-width="1.6"/>
<text transform="translate(1323.8,738.0) scale(0.840,1)" text-anchor="middle" class="tk">0.45</text>
<line x1="1420.6" y1="715.4" x2="1420.6" y2="721.4" stroke="#333" stroke-width="1.6"/>
<text transform="translate(1420.6,738.0) scale(0.840,1)" text-anchor="middle" class="tk">0.5</text>
<line x1="1517.8" y1="715.4" x2="1517.8" y2="721.4" stroke="#333" stroke-width="1.6"/>
<text transform="translate(1517.8,738.0) scale(0.840,1)" text-anchor="middle" class="tk">0.55</text>
<line x1="1613.6" y1="715.4" x2="1613.6" y2="721.4" stroke="#333" stroke-width="1.6"/>
<text transform="translate(1613.6,738.0) scale(0.840,1)" text-anchor="middle" class="tk">0.6</text>
<line x1="1710.4" y1="715.4" x2="1710.4" y2="721.4" stroke="#333" stroke-width="1.6"/>
<text transform="translate(1710.4,738.0) scale(0.840,1)" text-anchor="middle" class="tk">0.65</text>
<line x1="1807.6" y1="715.4" x2="1807.6" y2="721.4" stroke="#333" stroke-width="1.6"/>
<text transform="translate(1807.6,738.0) scale(0.840,1)" text-anchor="middle" class="tk">0.7</text>
<line x1="1871.5" y1="715.4" x2="1871.5" y2="721.4" stroke="#333" stroke-width="1.6"/>
<text transform="translate(1871.5,738.0) scale(0.840,1)" text-anchor="middle" class="tk">0.733</text>
<text transform="translate(1473.0,761.3) scale(0.875,1)" text-anchor="middle" class="tk">Time (s)</text>
<text transform="translate(1927.6,575.0) rotate(90) scale(0.92,1)" text-anchor="middle" class="tk" y="5.6">RMS</text>
<text transform="translate(1028.4,609.6) rotate(-90) scale(0.9,1)" class="tk" y="5.6">PLP Score</text>
<text transform="translate(1213.8,492.9) scale(0.880,1)" text-anchor="start" class="an" fill="#222" stroke="#222">0.946</text>
<text transform="translate(1213.8,512.7) scale(0.880,1)" text-anchor="start" class="an" fill="#222" stroke="#222">0.403 s</text>
<text transform="translate(1213.8,532.5) scale(0.880,1)" text-anchor="start" class="an" fill="#222" stroke="#222">1.946 pT</text>
<text transform="translate(1380.1,495.4) scale(0.880,1)" text-anchor="start" class="an" fill="#333" stroke="#333">-8.326 pT/s</text>
<text transform="translate(1380.1,515.2) scale(0.880,1)" text-anchor="start" class="an" fill="#333" stroke="#333">0.475 s</text>
<text transform="translate(1380.1,535.0) scale(0.880,1)" text-anchor="start" class="an" fill="#333" stroke="#333">0.059 pT</text>
<text transform="translate(1490.0,528.6) scale(0.880,1)" text-anchor="start" class="an" fill="#454545" stroke="#454545">3.869 pT/s</text>
<text transform="translate(1490.0,548.4) scale(0.880,1)" text-anchor="start" class="an" fill="#454545" stroke="#454545">0.569 s</text>
<text transform="translate(1490.0,568.2) scale(0.880,1)" text-anchor="start" class="an" fill="#454545" stroke="#454545">0.189 pT</text>
<rect x="991.0" y="423.0" width="952.0" height="2.8" fill="#e01515"/>
<rect x="990.8" y="423.0" width="4.0" height="349.0" fill="#bf0a0a"/>
<rect x="994.8" y="551.0" width="1.6" height="216.0" fill="#f2f6f6"/>
<rect x="995.0" y="767.2" width="946.0" height="2.0" fill="#f6f6f6"/>
<rect x="992.0" y="769.5" width="951.0" height="2.6" fill="#dd3c48"/>
<rect x="1940.8" y="423.0" width="2.4" height="349.0" fill="#d84040"/>
<rect x="991.2" y="423.3" width="115.8" height="127.5" fill="#fff" stroke="#111" stroke-width="2.6"/>
<text transform="translate(1048.6,508.7) scale(0.97,1)" text-anchor="middle" class="lt">D</text>
<clipPath id="clipE"><rect x="104.0" y="856.0" width="774.5" height="268.0"/></clipPath>
<rect x="7.0" y="835.6" width="930.0" height="347.4" fill="#e1e1e1"/>
<rect x="126.0" y="842.2" width="808.0" height="3.8" fill="#fbe8e8"/>
<rect x="126.0" y="846.0" width="808.0" height="1.7" fill="#999999"/>
<rect x="126.0" y="847.7" width="808.0" height="6.0" fill="#eaeaea"/>
<rect x="126.0" y="853.7" width="752.5" height="2.2" fill="#aaaaaa"/>
<rect x="104.0" y="856.0" width="774.5" height="268.0" fill="#ffffff"/>
<g clip-path="url(#clipE)">
<path d="M104.0,850.0 C104.5,858.3 106.0,880.7 107.0,900.0 C108.0,919.3 109.4,944.3 110.2,966.0 C111.0,987.7 111.4,1011.5 112.0,1030.0 C112.6,1048.5 113.2,1073.7 114.0,1077.0 C114.8,1080.3 116.0,1060.1 117.0,1050.0 C118.0,1039.9 119.0,1027.3 120.3,1016.5 C121.6,1005.7 123.3,994.2 125.0,985.0 C126.7,975.8 128.7,966.5 130.4,961.0 C132.1,955.5 133.3,954.1 135.0,952.0 C136.7,949.9 138.5,948.6 140.5,948.4 C142.5,948.2 144.9,949.7 147.0,951.0 C149.1,952.3 151.1,954.2 153.1,956.0 C155.1,957.8 156.9,959.9 159.0,962.0 C161.1,964.1 163.4,966.3 165.7,968.6 C168.0,970.9 170.5,973.5 173.0,976.0 C175.5,978.5 178.5,981.5 180.8,983.7 C183.1,985.9 184.9,987.3 187.0,989.0 C189.1,990.7 191.1,992.0 193.4,993.8 C195.7,995.6 198.5,997.5 201.0,1000.0 C203.5,1002.5 206.4,1005.9 208.6,1008.9 C210.8,1011.9 212.3,1014.6 214.0,1018.0 C215.7,1021.4 217.0,1024.5 218.6,1029.0 C220.2,1033.5 221.8,1039.5 223.5,1045.0 C225.2,1050.5 227.0,1057.0 228.7,1061.8 C230.4,1066.6 231.8,1070.6 233.5,1074.0 C235.2,1077.4 237.4,1080.5 238.8,1082.0 C240.2,1083.5 240.7,1083.2 242.0,1083.0 C243.3,1082.8 244.9,1082.5 246.4,1080.7 C247.9,1078.9 249.3,1074.7 251.0,1072.0 C252.7,1069.3 254.8,1066.1 256.5,1064.3 C258.2,1062.5 259.5,1061.6 261.0,1061.0 C262.5,1060.4 264.1,1059.9 265.3,1060.6 C266.6,1061.3 267.4,1062.7 268.5,1065.0 C269.6,1067.3 270.7,1070.2 271.6,1074.4 C272.5,1078.6 273.2,1085.4 274.0,1090.0 C274.8,1094.6 275.8,1101.9 276.6,1102.2 C277.4,1102.5 278.1,1095.8 279.0,1092.0 C279.9,1088.2 280.5,1086.5 281.7,1079.5 C282.9,1072.5 284.3,1058.8 286.0,1050.0 C287.7,1041.2 290.0,1032.3 291.7,1026.5 C293.4,1020.7 294.3,1017.9 296.0,1015.0 C297.7,1012.1 300.1,1010.6 301.8,1008.9 C303.5,1007.2 304.5,1005.8 306.0,1005.0 C307.5,1004.2 308.9,1003.4 310.6,1003.9 C312.3,1004.4 314.1,1005.9 316.0,1008.0 C317.9,1010.1 320.2,1013.5 322.0,1016.5 C323.8,1019.5 325.3,1023.1 327.0,1026.0 C328.7,1028.9 330.3,1031.4 332.1,1034.1 C333.9,1036.8 335.9,1039.9 338.0,1042.0 C340.1,1044.1 342.5,1045.5 344.7,1046.7 C346.9,1047.9 348.9,1048.6 351.0,1049.0 C353.1,1049.4 355.5,1048.4 357.3,1049.2 C359.1,1050.0 360.3,1051.9 362.0,1054.0 C363.7,1056.1 365.7,1058.6 367.4,1061.8 C369.1,1065.0 370.3,1068.8 372.0,1073.0 C373.7,1077.2 375.8,1082.8 377.5,1087.0 C379.2,1091.2 380.3,1094.8 382.0,1098.0 C383.7,1101.2 385.3,1106.2 387.5,1106.0 C389.7,1105.8 392.5,1099.7 395.0,1097.0 C397.5,1094.3 400.2,1092.1 402.7,1089.6 C405.2,1087.1 407.5,1083.9 410.0,1082.0 C412.5,1080.1 415.5,1078.4 417.8,1078.2 C420.1,1078.0 421.9,1079.5 424.0,1081.0 C426.1,1082.5 428.6,1085.2 430.4,1087.0 C432.2,1088.8 433.3,1090.5 435.0,1092.0 C436.7,1093.5 438.7,1096.2 440.5,1095.9 C442.3,1095.6 443.9,1091.9 446.0,1090.0 C448.1,1088.1 451.1,1086.2 453.1,1084.5 C455.1,1082.8 456.3,1081.0 458.0,1080.0 C459.7,1079.0 461.5,1078.2 463.2,1078.2 C464.9,1078.2 466.3,1078.7 468.0,1080.0 C469.7,1081.3 471.5,1083.3 473.2,1085.8 C474.9,1088.3 476.3,1091.4 478.0,1095.0 C479.7,1098.6 481.7,1103.9 483.3,1107.2 C484.9,1110.5 485.8,1112.7 487.6,1114.8 C489.4,1116.9 492.0,1119.8 493.9,1119.8 C495.8,1119.8 497.1,1116.7 499.0,1115.0 C500.9,1113.3 503.2,1111.9 505.2,1109.7 C507.2,1107.5 508.9,1104.5 511.0,1102.0 C513.1,1099.5 515.3,1097.1 517.8,1094.6 C520.3,1092.1 523.0,1089.5 526.0,1087.0 C529.0,1084.5 532.7,1082.7 535.5,1079.5 C538.3,1076.3 540.5,1071.8 543.0,1068.0 C545.5,1064.2 548.1,1060.1 550.6,1056.8 C553.1,1053.5 555.5,1050.5 558.0,1048.0 C560.5,1045.5 562.9,1044.0 565.7,1041.7 C568.5,1039.4 571.6,1036.5 575.0,1034.0 C578.4,1031.5 582.4,1028.7 585.9,1026.5 C589.4,1024.3 592.6,1022.7 596.0,1021.0 C599.4,1019.3 602.7,1017.8 606.0,1016.5 C609.3,1015.2 612.6,1014.3 616.0,1013.0 C619.4,1011.7 623.0,1010.6 626.2,1008.9 C629.4,1007.2 632.0,1004.9 635.0,1003.0 C638.0,1001.1 641.1,998.3 643.9,997.5 C646.7,996.7 649.1,997.4 652.0,998.0 C654.9,998.6 658.5,1000.8 661.5,1001.3 C664.5,1001.8 666.6,1001.2 670.0,1001.0 C673.4,1000.8 678.0,999.7 681.7,1000.0 C685.4,1000.3 688.6,1001.9 692.0,1003.0 C695.4,1004.1 698.8,1005.6 701.8,1006.4 C704.8,1007.2 707.0,1007.6 710.0,1008.0 C713.0,1008.4 716.2,1008.7 719.5,1008.9 C722.8,1009.1 726.6,1009.0 730.0,1009.0 C733.4,1009.0 736.6,1008.2 739.6,1008.9 C742.6,1009.6 745.0,1011.3 748.0,1013.0 C751.0,1014.7 754.1,1017.5 757.3,1019.0 C760.5,1020.5 763.6,1021.2 767.0,1022.0 C770.4,1022.8 774.2,1022.3 777.5,1024.0 C780.8,1025.7 783.6,1028.6 787.0,1032.0 C790.4,1035.4 794.6,1041.2 797.6,1044.2 C800.6,1047.2 802.5,1048.3 805.0,1050.0 C807.5,1051.7 809.9,1052.8 812.7,1054.3 C815.5,1055.8 818.6,1057.3 822.0,1059.0 C825.4,1060.7 829.9,1062.1 832.9,1064.3 C835.9,1066.5 837.5,1069.0 840.0,1072.0 C842.5,1075.0 845.3,1078.3 848.0,1082.0 C850.7,1085.7 853.5,1090.2 856.0,1094.0 C858.5,1097.8 861.2,1101.7 863.2,1104.7 C865.2,1107.7 866.3,1109.5 868.0,1112.0 C869.7,1114.5 871.5,1118.3 873.2,1119.8 C874.9,1121.3 876.8,1120.8 878.3,1121.0 C879.8,1121.2 881.4,1121.0 882.0,1121.0 L882.0,1122.4 L104.0,1122.4 Z" fill="#fbd6c9" stroke="none"/>
<path d="M104.0,850.0 C104.5,858.3 106.0,880.7 107.0,900.0 C108.0,919.3 109.4,944.3 110.2,966.0 C111.0,987.7 111.4,1011.5 112.0,1030.0 C112.6,1048.5 113.2,1073.7 114.0,1077.0 C114.8,1080.3 116.0,1060.1 117.0,1050.0 C118.0,1039.9 119.0,1027.3 120.3,1016.5 C121.6,1005.7 123.3,994.2 125.0,985.0 C126.7,975.8 128.7,966.5 130.4,961.0 C132.1,955.5 133.3,954.1 135.0,952.0 C136.7,949.9 138.5,948.6 140.5,948.4 C142.5,948.2 144.9,949.7 147.0,951.0 C149.1,952.3 151.1,954.2 153.1,956.0 C155.1,957.8 156.9,959.9 159.0,962.0 C161.1,964.1 163.4,966.3 165.7,968.6 C168.0,970.9 170.5,973.5 173.0,976.0 C175.5,978.5 178.5,981.5 180.8,983.7 C183.1,985.9 184.9,987.3 187.0,989.0 C189.1,990.7 191.1,992.0 193.4,993.8 C195.7,995.6 198.5,997.5 201.0,1000.0 C203.5,1002.5 206.4,1005.9 208.6,1008.9 C210.8,1011.9 212.3,1014.6 214.0,1018.0 C215.7,1021.4 217.0,1024.5 218.6,1029.0 C220.2,1033.5 221.8,1039.5 223.5,1045.0 C225.2,1050.5 227.0,1057.0 228.7,1061.8 C230.4,1066.6 231.8,1070.6 233.5,1074.0 C235.2,1077.4 237.4,1080.5 238.8,1082.0 C240.2,1083.5 240.7,1083.2 242.0,1083.0 C243.3,1082.8 244.9,1082.5 246.4,1080.7 C247.9,1078.9 249.3,1074.7 251.0,1072.0 C252.7,1069.3 254.8,1066.1 256.5,1064.3 C258.2,1062.5 259.5,1061.6 261.0,1061.0 C262.5,1060.4 264.1,1059.9 265.3,1060.6 C266.6,1061.3 267.4,1062.7 268.5,1065.0 C269.6,1067.3 270.7,1070.2 271.6,1074.4 C272.5,1078.6 273.2,1085.4 274.0,1090.0 C274.8,1094.6 275.8,1101.9 276.6,1102.2 C277.4,1102.5 278.1,1095.8 279.0,1092.0 C279.9,1088.2 280.5,1086.5 281.7,1079.5 C282.9,1072.5 284.3,1058.8 286.0,1050.0 C287.7,1041.2 290.0,1032.3 291.7,1026.5 C293.4,1020.7 294.3,1017.9 296.0,1015.0 C297.7,1012.1 300.1,1010.6 301.8,1008.9 C303.5,1007.2 304.5,1005.8 306.0,1005.0 C307.5,1004.2 308.9,1003.4 310.6,1003.9 C312.3,1004.4 314.1,1005.9 316.0,1008.0 C317.9,1010.1 320.2,1013.5 322.0,1016.5 C323.8,1019.5 325.3,1023.1 327.0,1026.0 C328.7,1028.9 330.3,1031.4 332.1,1034.1 C333.9,1036.8 335.9,1039.9 338.0,1042.0 C340.1,1044.1 342.5,1045.5 344.7,1046.7 C346.9,1047.9 348.9,1048.6 351.0,1049.0 C353.1,1049.4 355.5,1048.4 357.3,1049.2 C359.1,1050.0 360.3,1051.9 362.0,1054.0 C363.7,1056.1 365.7,1058.6 367.4,1061.8 C369.1,1065.0 370.3,1068.8 372.0,1073.0 C373.7,1077.2 375.8,1082.8 377.5,1087.0 C379.2,1091.2 380.3,1094.8 382.0,1098.0 C383.7,1101.2 385.3,1106.2 387.5,1106.0 C389.7,1105.8 392.5,1099.7 395.0,1097.0 C397.5,1094.3 400.2,1092.1 402.7,1089.6 C405.2,1087.1 407.5,1083.9 410.0,1082.0 C412.5,1080.1 415.5,1078.4 417.8,1078.2 C420.1,1078.0 421.9,1079.5 424.0,1081.0 C426.1,1082.5 428.6,1085.2 430.4,1087.0 C432.2,1088.8 433.3,1090.5 435.0,1092.0 C436.7,1093.5 438.7,1096.2 440.5,1095.9 C442.3,1095.6 443.9,1091.9 446.0,1090.0 C448.1,1088.1 451.1,1086.2 453.1,1084.5 C455.1,1082.8 456.3,1081.0 458.0,1080.0 C459.7,1079.0 461.5,1078.2 463.2,1078.2 C464.9,1078.2 466.3,1078.7 468.0,1080.0 C469.7,1081.3 471.5,1083.3 473.2,1085.8 C474.9,1088.3 476.3,1091.4 478.0,1095.0 C479.7,1098.6 481.7,1103.9 483.3,1107.2 C484.9,1110.5 485.8,1112.7 487.6,1114.8 C489.4,1116.9 492.0,1119.8 493.9,1119.8 C495.8,1119.8 497.1,1116.7 499.0,1115.0 C500.9,1113.3 503.2,1111.9 505.2,1109.7 C507.2,1107.5 508.9,1104.5 511.0,1102.0 C513.1,1099.5 515.3,1097.1 517.8,1094.6 C520.3,1092.1 523.0,1089.5 526.0,1087.0 C529.0,1084.5 532.7,1082.7 535.5,1079.5 C538.3,1076.3 540.5,1071.8 543.0,1068.0 C545.5,1064.2 548.1,1060.1 550.6,1056.8 C553.1,1053.5 555.5,1050.5 558.0,1048.0 C560.5,1045.5 562.9,1044.0 565.7,1041.7 C568.5,1039.4 571.6,1036.5 575.0,1034.0 C578.4,1031.5 582.4,1028.7 585.9,1026.5 C589.4,1024.3 592.6,1022.7 596.0,1021.0 C599.4,1019.3 602.7,1017.8 606.0,1016.5 C609.3,1015.2 612.6,1014.3 616.0,1013.0 C619.4,1011.7 623.0,1010.6 626.2,1008.9 C629.4,1007.2 632.0,1004.9 635.0,1003.0 C638.0,1001.1 641.1,998.3 643.9,997.5 C646.7,996.7 649.1,997.4 652.0,998.0 C654.9,998.6 658.5,1000.8 661.5,1001.3 C664.5,1001.8 666.6,1001.2 670.0,1001.0 C673.4,1000.8 678.0,999.7 681.7,1000.0 C685.4,1000.3 688.6,1001.9 692.0,1003.0 C695.4,1004.1 698.8,1005.6 701.8,1006.4 C704.8,1007.2 707.0,1007.6 710.0,1008.0 C713.0,1008.4 716.2,1008.7 719.5,1008.9 C722.8,1009.1 726.6,1009.0 730.0,1009.0 C733.4,1009.0 736.6,1008.2 739.6,1008.9 C742.6,1009.6 745.0,1011.3 748.0,1013.0 C751.0,1014.7 754.1,1017.5 757.3,1019.0 C760.5,1020.5 763.6,1021.2 767.0,1022.0 C770.4,1022.8 774.2,1022.3 777.5,1024.0 C780.8,1025.7 783.6,1028.6 787.0,1032.0 C790.4,1035.4 794.6,1041.2 797.6,1044.2 C800.6,1047.2 802.5,1048.3 805.0,1050.0 C807.5,1051.7 809.9,1052.8 812.7,1054.3 C815.5,1055.8 818.6,1057.3 822.0,1059.0 C825.4,1060.7 829.9,1062.1 832.9,1064.3 C835.9,1066.5 837.5,1069.0 840.0,1072.0 C842.5,1075.0 845.3,1078.3 848.0,1082.0 C850.7,1085.7 853.5,1090.2 856.0,1094.0 C858.5,1097.8 861.2,1101.7 863.2,1104.7 C865.2,1107.7 866.3,1109.5 868.0,1112.0 C869.7,1114.5 871.5,1118.3 873.2,1119.8 C874.9,1121.3 876.8,1120.8 878.3,1121.0 C879.8,1121.2 881.4,1121.0 882.0,1121.0" fill="none" stroke="#e3485a" stroke-width="1.9"/>
<path d="M104.0,1112.2 C105.0,1108.8 107.7,1099.5 110.0,1092.0 C112.3,1084.5 115.6,1075.1 117.8,1066.9 C120.0,1058.7 121.3,1051.4 123.0,1043.0 C124.7,1034.6 126.6,1026.2 127.9,1016.5 C129.2,1006.8 129.9,996.4 131.0,985.0 C132.1,973.6 133.2,961.7 134.2,948.4 C135.2,935.1 135.9,920.5 137.0,905.0 C138.1,889.5 139.7,868.1 140.5,855.6 C141.3,843.1 130.6,834.3 142.0,830.0 C153.4,825.7 197.5,825.7 209.0,830.0 C220.5,834.3 210.3,846.4 211.1,855.6 C211.9,864.8 212.9,875.0 214.0,885.0 C215.1,895.0 216.2,904.8 217.4,915.6 C218.6,926.4 219.5,937.4 221.0,950.0 C222.5,962.6 224.4,979.9 226.2,991.2 C228.0,1002.5 229.9,1009.6 232.0,1018.0 C234.1,1026.4 236.6,1034.4 238.8,1041.7 C241.0,1049.0 242.9,1055.7 245.0,1062.0 C247.1,1068.3 249.2,1074.2 251.4,1079.5 C253.6,1084.8 255.5,1089.4 258.0,1094.0 C260.5,1098.6 263.4,1104.0 266.5,1107.2 C269.6,1110.5 272.7,1112.7 276.6,1113.5 C280.5,1114.3 284.9,1112.6 290.0,1112.0 C295.1,1111.4 299.9,1110.7 306.9,1109.7 C313.9,1108.7 319.5,1106.5 332.1,1105.9 C344.7,1105.3 365.7,1106.1 382.5,1105.9 C399.3,1105.7 416.1,1105.5 432.9,1104.7 C449.7,1103.9 472.1,1101.9 483.3,1100.9 C494.5,1100.0 494.2,1099.6 500.0,1099.0 C505.8,1098.4 508.5,1098.7 517.8,1097.1 C527.1,1095.5 543.0,1093.8 555.6,1089.6 C568.2,1085.4 584.0,1076.8 593.4,1071.9 C602.8,1067.0 605.7,1064.2 612.0,1060.0 C618.3,1055.8 624.9,1051.0 631.2,1046.7 C637.5,1042.4 643.7,1038.2 650.0,1034.0 C656.3,1029.8 662.8,1025.0 669.1,1021.5 C675.4,1018.0 681.7,1015.5 688.0,1013.0 C694.3,1010.5 699.5,1008.4 706.9,1006.4 C714.2,1004.4 723.7,1002.6 732.1,1001.3 C740.5,1000.0 751.0,998.5 757.3,998.8 C763.6,999.1 765.8,1001.5 770.0,1003.0 C774.2,1004.5 778.3,1006.4 782.5,1007.6 C786.7,1008.8 790.8,1009.0 795.0,1010.0 C799.2,1011.0 803.5,1011.9 807.7,1013.9 C811.9,1015.9 815.8,1019.0 820.0,1022.0 C824.2,1025.0 828.7,1028.8 832.9,1031.6 C837.1,1034.4 840.8,1036.9 845.0,1039.0 C849.2,1041.1 854.3,1043.7 858.1,1044.2 C861.9,1044.7 864.6,1043.0 868.0,1042.0 C871.4,1041.0 876.0,1038.9 878.3,1037.9 C880.6,1036.9 881.4,1036.3 882.0,1036.0" fill="none" stroke="#4e4646" stroke-width="2" stroke-dasharray="2 2.2"/>
<path d="M104.0,1121.0 C105.0,1118.8 107.7,1112.8 110.0,1108.0 C112.3,1103.2 115.5,1098.7 117.8,1092.0 C120.1,1085.3 121.9,1076.4 124.0,1068.0 C126.1,1059.6 128.1,1050.5 130.4,1041.7 C132.7,1032.9 135.5,1023.4 138.0,1015.0 C140.5,1006.6 143.3,999.5 145.5,991.2 C147.7,982.9 149.3,973.4 151.0,965.0 C152.7,956.6 154.1,950.0 155.6,940.8 C157.1,931.6 158.7,918.4 160.0,910.0 C161.3,901.6 162.3,897.1 163.2,890.4 C164.1,883.7 164.9,875.8 165.5,870.0 C166.1,864.2 166.5,861.4 167.0,855.6 C167.5,849.8 164.0,838.4 168.5,835.0 C173.0,831.6 189.4,831.6 194.0,835.0 C198.6,838.4 195.0,847.3 196.0,855.6 C197.0,863.9 198.8,875.0 200.0,885.0 C201.2,895.0 202.2,905.6 203.5,915.6 C204.8,925.6 206.3,935.8 208.0,945.0 C209.7,954.2 211.6,962.8 213.6,971.1 C215.6,979.4 217.9,987.4 220.0,995.0 C222.1,1002.6 224.2,1009.7 226.2,1016.5 C228.2,1023.3 229.9,1029.7 232.0,1036.0 C234.1,1042.3 236.6,1048.6 238.8,1054.3 C241.0,1060.0 242.9,1065.4 245.0,1070.0 C247.1,1074.6 249.2,1078.0 251.4,1082.0 C253.6,1086.0 255.9,1090.2 258.0,1094.0 C260.1,1097.8 262.0,1102.0 264.0,1104.7 C266.0,1107.4 267.9,1108.8 270.0,1110.0 C272.1,1111.2 270.5,1111.6 276.6,1112.2 C282.8,1112.8 297.6,1113.7 306.9,1113.5 C316.1,1113.3 319.5,1111.4 332.1,1111.0 C344.7,1110.6 365.7,1111.4 382.5,1111.0 C399.3,1110.6 418.2,1109.1 432.9,1108.5 C447.6,1107.9 462.8,1108.2 470.7,1107.2 C478.6,1106.2 475.1,1103.2 480.0,1102.2 C484.9,1101.2 493.7,1101.4 500.0,1101.0 C506.3,1100.6 508.5,1100.2 517.8,1099.6 C527.1,1098.9 543.0,1098.8 555.6,1097.1 C568.2,1095.4 580.8,1092.3 593.4,1089.6 C606.0,1086.9 618.6,1084.5 631.2,1080.7 C643.8,1076.9 656.5,1070.9 669.1,1066.9 C681.7,1062.9 698.5,1059.1 706.9,1056.8 C715.3,1054.5 713.2,1053.8 719.5,1053.0 C725.8,1052.2 737.6,1053.0 744.7,1051.7 C751.8,1050.4 756.0,1045.8 762.3,1045.4 C768.6,1045.0 775.4,1049.8 782.5,1049.2 C789.6,1048.6 799.0,1042.1 805.2,1041.7 C811.5,1041.3 815.4,1045.1 820.0,1047.0 C824.6,1048.9 828.7,1052.2 832.9,1053.0 C837.1,1053.8 840.8,1052.6 845.0,1052.0 C849.2,1051.4 854.3,1050.5 858.1,1049.2 C861.9,1047.9 864.6,1046.1 868.0,1044.0 C871.4,1041.9 876.0,1038.3 878.3,1036.6 C880.6,1034.9 881.4,1034.4 882.0,1034.0" fill="none" stroke="#4ee812" stroke-width="2.2"/>
<path d="M104.0,1107.2 C104.7,1108.3 106.5,1112.1 108.0,1114.0 C109.5,1115.9 111.3,1120.0 112.8,1118.5 C114.3,1117.0 115.3,1111.5 117.0,1105.0 C118.7,1098.5 121.1,1089.0 122.9,1079.5 C124.7,1070.0 126.3,1058.5 128.0,1048.0 C129.7,1037.5 131.4,1027.8 132.9,1016.5 C134.4,1005.2 135.7,992.6 137.0,980.0 C138.3,967.4 139.3,953.3 140.5,940.8 C141.7,928.3 142.9,915.5 144.0,905.0 C145.1,894.5 145.9,885.3 146.8,877.8 C147.7,870.3 148.7,865.5 149.5,860.0 C150.3,854.5 151.2,850.0 151.8,845.0 C152.4,840.0 146.6,832.5 153.0,830.0 C159.4,827.5 183.5,825.7 190.0,830.0 C196.5,834.3 191.2,846.4 192.2,855.6 C193.2,864.8 194.5,875.0 196.0,885.0 C197.5,895.0 199.3,903.9 201.0,915.6 C202.7,927.3 204.6,944.3 206.0,955.0 C207.4,965.7 208.2,972.0 209.2,980.0 C210.2,988.0 211.0,995.3 212.0,1003.0 C213.0,1010.7 214.1,1017.0 215.4,1026.0 C216.7,1035.0 218.2,1046.7 220.0,1057.0 C221.8,1067.3 224.2,1080.4 226.2,1087.7 C228.2,1095.0 229.9,1097.2 232.0,1101.0 C234.1,1104.8 235.5,1108.5 238.5,1110.8 C241.5,1113.1 246.2,1114.0 250.0,1115.0 C253.8,1116.0 254.1,1116.6 261.5,1117.0 C268.9,1117.4 284.6,1117.7 294.3,1117.3 C304.0,1116.9 311.1,1115.0 319.5,1114.8 C327.9,1114.6 334.2,1115.4 344.7,1116.0 C355.2,1116.6 367.8,1117.9 382.5,1118.5 C397.2,1119.1 418.2,1119.8 432.9,1119.8 C447.6,1119.8 462.8,1118.5 470.7,1118.5 C478.6,1118.5 475.1,1119.6 480.0,1119.8 C484.9,1120.0 491.6,1119.9 500.0,1119.5 C508.4,1119.1 521.2,1118.5 530.4,1117.3 C539.6,1116.0 546.6,1114.1 555.0,1112.0 C563.4,1109.9 572.3,1107.7 580.8,1104.7 C589.3,1101.7 597.6,1097.4 606.0,1094.0 C614.4,1090.6 622.9,1087.3 631.2,1084.5 C639.5,1081.7 647.6,1079.1 656.0,1077.0 C664.4,1074.9 673.2,1073.2 681.7,1071.9 C690.2,1070.6 696.8,1069.6 706.9,1069.4 C717.0,1069.2 731.7,1069.2 742.2,1070.7 C752.7,1072.2 761.9,1075.5 769.9,1078.2 C777.9,1080.9 783.7,1084.3 790.0,1087.0 C796.3,1089.7 800.6,1091.6 807.7,1094.6 C814.9,1097.5 824.5,1101.1 832.9,1104.7 C841.3,1108.3 850.5,1113.3 858.1,1116.0 C865.7,1118.7 874.3,1120.2 878.3,1121.0 C882.3,1121.8 881.4,1121.0 882.0,1121.0" fill="none" stroke="#1f8bef" stroke-width="5" stroke-linejoin="round" stroke-linecap="round"/>
<line x1="176.4" y1="856.0" x2="176.4" y2="1122.4" stroke="#151010" stroke-width="2.6"/>
<line x1="742.2" y1="856.0" x2="742.2" y2="1122.4" stroke="#4d7be3" stroke-width="1.5"/>
<line x1="805.2" y1="856.0" x2="805.2" y2="1122.4" stroke="#8fe85f" stroke-width="1.8"/>
</g>
<line x1="103.5" y1="856.0" x2="103.5" y2="1123.4" stroke="#8c8c8c" stroke-width="1"/>
<line x1="95.5" y1="1122.5" x2="102.0" y2="1122.5" stroke="#333" stroke-width="2"/>
<text transform="translate(93.5,1128.1) scale(0.840,1)" text-anchor="end" class="tk">0</text>
<line x1="95.5" y1="1070.0" x2="102.0" y2="1070.0" stroke="#333" stroke-width="2"/>
<text transform="translate(93.5,1075.6) scale(0.840,1)" text-anchor="end" class="tk">0.2</text>
<line x1="95.5" y1="1016.6" x2="102.0" y2="1016.6" stroke="#333" stroke-width="2"/>
<text transform="translate(93.5,1022.2) scale(0.840,1)" text-anchor="end" class="tk">0.4</text>
<line x1="95.5" y1="963.5" x2="102.0" y2="963.5" stroke="#333" stroke-width="2"/>
<text transform="translate(93.5,969.1) scale(0.840,1)" text-anchor="end" class="tk">0.6</text>
<line x1="881.5" y1="857.6" x2="887.5" y2="857.6" stroke="#333" stroke-width="2.2"/>
<text transform="translate(899.5,863.2) scale(0.840,1)" text-anchor="middle" class="tk">1</text>
<line x1="881.5" y1="910.6" x2="887.5" y2="910.6" stroke="#333" stroke-width="2.2"/>
<text transform="translate(899.5,916.2) scale(0.840,1)" text-anchor="middle" class="tk">0.8</text>
<line x1="881.5" y1="963.5" x2="887.5" y2="963.5" stroke="#333" stroke-width="2.2"/>
<text transform="translate(899.5,969.1) scale(0.840,1)" text-anchor="middle" class="tk">0.6</text>
<line x1="881.5" y1="1016.5" x2="887.5" y2="1016.5" stroke="#333" stroke-width="2.2"/>
<text transform="translate(899.5,1022.1) scale(0.840,1)" text-anchor="middle" class="tk">0.4</text>
<line x1="881.5" y1="1069.4" x2="887.5" y2="1069.4" stroke="#333" stroke-width="2.2"/>
<text transform="translate(899.5,1075.0) scale(0.840,1)" text-anchor="middle" class="tk">0.2</text>
<line x1="881.5" y1="1122.3" x2="887.5" y2="1122.3" stroke="#333" stroke-width="2.2"/>
<text transform="translate(899.5,1127.9) scale(0.840,1)" text-anchor="middle" class="tk">0</text>
<line x1="105.4" y1="1126.4" x2="105.4" y2="1132.4" stroke="#333" stroke-width="1.6"/>
<text transform="translate(105.4,1147.6) scale(0.840,1)" text-anchor="middle" class="tk">0.228</text>
<line x1="155.8" y1="1126.4" x2="155.8" y2="1132.4" stroke="#333" stroke-width="1.6"/>
<text transform="translate(155.8,1147.6) scale(0.840,1)" text-anchor="middle" class="tk">0.25</text>
<line x1="271.0" y1="1126.4" x2="271.0" y2="1132.4" stroke="#333" stroke-width="1.6"/>
<text transform="translate(271.0,1147.6) scale(0.840,1)" text-anchor="middle" class="tk">0.3</text>
<line x1="385.6" y1="1126.4" x2="385.6" y2="1132.4" stroke="#333" stroke-width="1.6"/>
<text transform="translate(385.6,1147.6) scale(0.840,1)" text-anchor="middle" class="tk">0.35</text>
<line x1="499.4" y1="1126.4" x2="499.4" y2="1132.4" stroke="#333" stroke-width="1.6"/>
<text transform="translate(499.4,1147.6) scale(0.840,1)" text-anchor="middle" class="tk">0.4</text>
<line x1="614.0" y1="1126.4" x2="614.0" y2="1132.4" stroke="#333" stroke-width="1.6"/>
<text transform="translate(614.0,1147.6) scale(0.840,1)" text-anchor="middle" class="tk">0.45</text>
<line x1="727.8" y1="1126.4" x2="727.8" y2="1132.4" stroke="#333" stroke-width="1.6"/>
<text transform="translate(727.8,1147.6) scale(0.840,1)" text-anchor="middle" class="tk">0.5</text>
<line x1="841.6" y1="1126.4" x2="841.6" y2="1132.4" stroke="#333" stroke-width="1.6"/>
<text transform="translate(841.6,1147.6) scale(0.840,1)" text-anchor="middle" class="tk">0.55</text>
<line x1="876.4" y1="1126.4" x2="876.4" y2="1132.4" stroke="#333" stroke-width="1.6"/>
<text transform="translate(876.4,1147.6) scale(0.840,1)" text-anchor="middle" class="tk">0.565</text>
<text transform="translate(490.5,1170.5) scale(0.875,1)" text-anchor="middle" class="tk">Time (s)</text>
<text transform="translate(923.7,990.0) rotate(90) scale(0.92,1)" text-anchor="middle" class="tk" y="5.6">RMS</text>
<text transform="translate(58.5,1023.6) rotate(-90) scale(0.9,1)" class="tk" y="5.6">PLP Score</text>
<text transform="translate(160.7,909.2) scale(0.880,1)" text-anchor="start" class="an" fill="#454545" stroke="#454545">0.533</text>
<text transform="translate(160.7,929.0) scale(0.880,1)" text-anchor="start" class="an" fill="#454545" stroke="#454545">0.259 s</text>
<text transform="translate(160.7,948.8) scale(0.880,1)" text-anchor="start" class="an" fill="#454545" stroke="#454545">2.577 pT</text>
<text transform="translate(648.4,960.4) scale(0.880,1)" text-anchor="start" class="an" fill="#333" stroke="#333">-1.614 pT/s</text>
<text transform="translate(648.4,980.2) scale(0.880,1)" text-anchor="start" class="an" fill="#333" stroke="#333">0.507 s</text>
<text transform="translate(648.4,1000.0) scale(0.880,1)" text-anchor="start" class="an" fill="#333" stroke="#333">0.191 pT</text>
<text transform="translate(763.6,897.9) scale(0.880,1)" text-anchor="start" class="an" fill="#333" stroke="#333">-0.659 pT/s</text>
<text transform="translate(763.6,917.7) scale(0.880,1)" text-anchor="start" class="an" fill="#333" stroke="#333">0.534 s</text>
<text transform="translate(763.6,937.5) scale(0.880,1)" text-anchor="start" class="an" fill="#333" stroke="#333">0.301 pT</text>
<rect x="7.0" y="835.6" width="930.0" height="3.3" fill="#111"/>
<rect x="10.0" y="838.9" width="924.0" height="3.3" fill="#c81010"/>
<rect x="7.0" y="835.6" width="3.0" height="347.5" fill="#111"/>
<rect x="10.0" y="838.9" width="3.0" height="340.0" fill="#c40c0c"/>
<rect x="10.0" y="1174.0" width="924.0" height="2.0" fill="#b8a4a4"/>
<rect x="10.0" y="1176.0" width="924.0" height="3.0" fill="#c83030"/>
<rect x="7.0" y="1179.0" width="930.0" height="4.0" fill="#111"/>
<rect x="934.0" y="835.6" width="3.0" height="347.5" fill="#111"/>
<rect x="7.6" y="836.6" width="117.8" height="129.4" fill="#fff" stroke="#111" stroke-width="2.6"/>
<text transform="translate(66.5,919.5) scale(0.97,1)" text-anchor="middle" class="lt">E</text>
</svg>
</body></html>
